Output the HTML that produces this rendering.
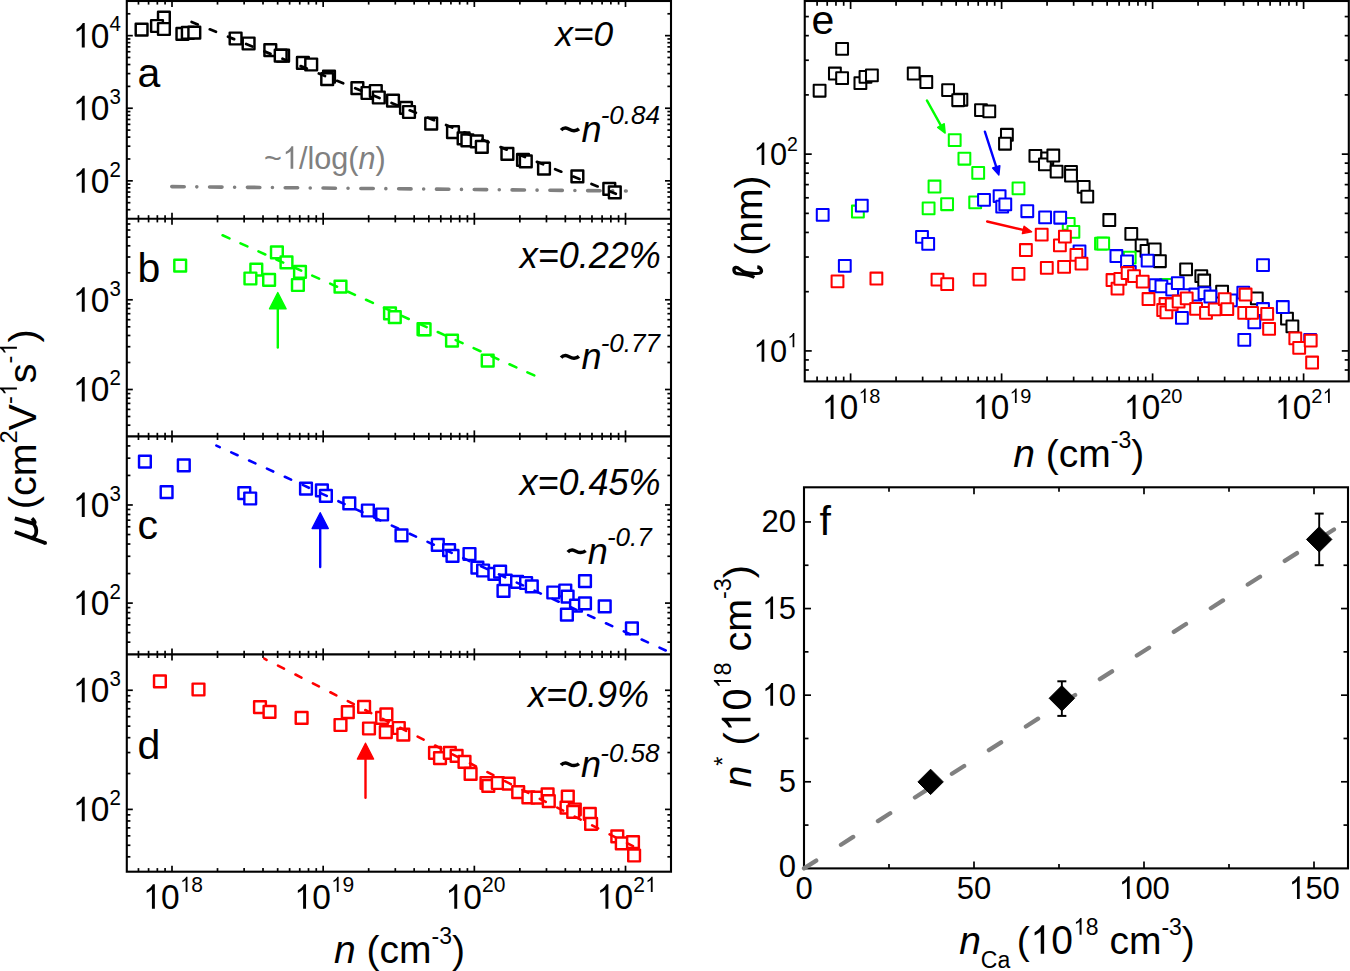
<!DOCTYPE html>
<html><head><meta charset="utf-8"><style>
html,body{margin:0;padding:0;background:#fff;}
svg{display:block;}
text{font-family:"Liberation Sans",sans-serif;font-kerning:none;white-space:pre;}
</style></head><body>
<svg width="1350" height="971" viewBox="0 0 1350 971">
<defs><path id="one" d="M763,0 L583,0 L583,1147 Q518,1085 424,1027 Q330,969 262,940 L262,1110 Q395,1178 497,1276 Q599,1374 643,1466 L763,1466 Z"/></defs>
<rect width="1350" height="971" fill="#fff"/>
<line x1="126.80" y1="209.73" x2="130.40" y2="209.73" stroke="#000" stroke-width="1.7"/>
<line x1="671.00" y1="209.73" x2="667.40" y2="209.73" stroke="#000" stroke-width="1.7"/>
<line x1="126.80" y1="202.69" x2="130.40" y2="202.69" stroke="#000" stroke-width="1.7"/>
<line x1="671.00" y1="202.69" x2="667.40" y2="202.69" stroke="#000" stroke-width="1.7"/>
<line x1="126.80" y1="196.95" x2="130.40" y2="196.95" stroke="#000" stroke-width="1.7"/>
<line x1="671.00" y1="196.95" x2="667.40" y2="196.95" stroke="#000" stroke-width="1.7"/>
<line x1="126.80" y1="192.08" x2="130.40" y2="192.08" stroke="#000" stroke-width="1.7"/>
<line x1="671.00" y1="192.08" x2="667.40" y2="192.08" stroke="#000" stroke-width="1.7"/>
<line x1="126.80" y1="187.87" x2="130.40" y2="187.87" stroke="#000" stroke-width="1.7"/>
<line x1="671.00" y1="187.87" x2="667.40" y2="187.87" stroke="#000" stroke-width="1.7"/>
<line x1="126.80" y1="184.16" x2="130.40" y2="184.16" stroke="#000" stroke-width="1.7"/>
<line x1="671.00" y1="184.16" x2="667.40" y2="184.16" stroke="#000" stroke-width="1.7"/>
<line x1="126.80" y1="180.84" x2="132.80" y2="180.84" stroke="#000" stroke-width="1.7"/>
<line x1="671.00" y1="180.84" x2="665.00" y2="180.84" stroke="#000" stroke-width="1.7"/>
<line x1="126.80" y1="158.98" x2="130.40" y2="158.98" stroke="#000" stroke-width="1.7"/>
<line x1="671.00" y1="158.98" x2="667.40" y2="158.98" stroke="#000" stroke-width="1.7"/>
<line x1="126.80" y1="146.20" x2="130.40" y2="146.20" stroke="#000" stroke-width="1.7"/>
<line x1="671.00" y1="146.20" x2="667.40" y2="146.20" stroke="#000" stroke-width="1.7"/>
<line x1="126.80" y1="137.13" x2="130.40" y2="137.13" stroke="#000" stroke-width="1.7"/>
<line x1="671.00" y1="137.13" x2="667.40" y2="137.13" stroke="#000" stroke-width="1.7"/>
<line x1="126.80" y1="130.09" x2="130.40" y2="130.09" stroke="#000" stroke-width="1.7"/>
<line x1="671.00" y1="130.09" x2="667.40" y2="130.09" stroke="#000" stroke-width="1.7"/>
<line x1="126.80" y1="124.35" x2="130.40" y2="124.35" stroke="#000" stroke-width="1.7"/>
<line x1="671.00" y1="124.35" x2="667.40" y2="124.35" stroke="#000" stroke-width="1.7"/>
<line x1="126.80" y1="119.48" x2="130.40" y2="119.48" stroke="#000" stroke-width="1.7"/>
<line x1="671.00" y1="119.48" x2="667.40" y2="119.48" stroke="#000" stroke-width="1.7"/>
<line x1="126.80" y1="115.27" x2="130.40" y2="115.27" stroke="#000" stroke-width="1.7"/>
<line x1="671.00" y1="115.27" x2="667.40" y2="115.27" stroke="#000" stroke-width="1.7"/>
<line x1="126.80" y1="111.56" x2="130.40" y2="111.56" stroke="#000" stroke-width="1.7"/>
<line x1="671.00" y1="111.56" x2="667.40" y2="111.56" stroke="#000" stroke-width="1.7"/>
<line x1="126.80" y1="108.24" x2="132.80" y2="108.24" stroke="#000" stroke-width="1.7"/>
<line x1="671.00" y1="108.24" x2="665.00" y2="108.24" stroke="#000" stroke-width="1.7"/>
<line x1="126.80" y1="86.38" x2="130.40" y2="86.38" stroke="#000" stroke-width="1.7"/>
<line x1="671.00" y1="86.38" x2="667.40" y2="86.38" stroke="#000" stroke-width="1.7"/>
<line x1="126.80" y1="73.60" x2="130.40" y2="73.60" stroke="#000" stroke-width="1.7"/>
<line x1="671.00" y1="73.60" x2="667.40" y2="73.60" stroke="#000" stroke-width="1.7"/>
<line x1="126.80" y1="64.53" x2="130.40" y2="64.53" stroke="#000" stroke-width="1.7"/>
<line x1="671.00" y1="64.53" x2="667.40" y2="64.53" stroke="#000" stroke-width="1.7"/>
<line x1="126.80" y1="57.49" x2="130.40" y2="57.49" stroke="#000" stroke-width="1.7"/>
<line x1="671.00" y1="57.49" x2="667.40" y2="57.49" stroke="#000" stroke-width="1.7"/>
<line x1="126.80" y1="51.75" x2="130.40" y2="51.75" stroke="#000" stroke-width="1.7"/>
<line x1="671.00" y1="51.75" x2="667.40" y2="51.75" stroke="#000" stroke-width="1.7"/>
<line x1="126.80" y1="46.88" x2="130.40" y2="46.88" stroke="#000" stroke-width="1.7"/>
<line x1="671.00" y1="46.88" x2="667.40" y2="46.88" stroke="#000" stroke-width="1.7"/>
<line x1="126.80" y1="42.67" x2="130.40" y2="42.67" stroke="#000" stroke-width="1.7"/>
<line x1="671.00" y1="42.67" x2="667.40" y2="42.67" stroke="#000" stroke-width="1.7"/>
<line x1="126.80" y1="38.96" x2="130.40" y2="38.96" stroke="#000" stroke-width="1.7"/>
<line x1="671.00" y1="38.96" x2="667.40" y2="38.96" stroke="#000" stroke-width="1.7"/>
<line x1="126.80" y1="35.64" x2="132.80" y2="35.64" stroke="#000" stroke-width="1.7"/>
<line x1="671.00" y1="35.64" x2="665.00" y2="35.64" stroke="#000" stroke-width="1.7"/>
<line x1="126.80" y1="13.78" x2="130.40" y2="13.78" stroke="#000" stroke-width="1.7"/>
<line x1="671.00" y1="13.78" x2="667.40" y2="13.78" stroke="#000" stroke-width="1.7"/>
<line x1="138.46" y1="1.00" x2="138.46" y2="4.60" stroke="#000" stroke-width="1.7"/>
<line x1="138.46" y1="218.80" x2="138.46" y2="215.20" stroke="#000" stroke-width="1.7"/>
<line x1="148.58" y1="1.00" x2="148.58" y2="4.60" stroke="#000" stroke-width="1.7"/>
<line x1="148.58" y1="218.80" x2="148.58" y2="215.20" stroke="#000" stroke-width="1.7"/>
<line x1="157.35" y1="1.00" x2="157.35" y2="4.60" stroke="#000" stroke-width="1.7"/>
<line x1="157.35" y1="218.80" x2="157.35" y2="215.20" stroke="#000" stroke-width="1.7"/>
<line x1="165.08" y1="1.00" x2="165.08" y2="4.60" stroke="#000" stroke-width="1.7"/>
<line x1="165.08" y1="218.80" x2="165.08" y2="215.20" stroke="#000" stroke-width="1.7"/>
<line x1="172.00" y1="1.00" x2="172.00" y2="7.00" stroke="#000" stroke-width="1.7"/>
<line x1="172.00" y1="218.80" x2="172.00" y2="212.80" stroke="#000" stroke-width="1.7"/>
<line x1="217.51" y1="1.00" x2="217.51" y2="4.60" stroke="#000" stroke-width="1.7"/>
<line x1="217.51" y1="218.80" x2="217.51" y2="215.20" stroke="#000" stroke-width="1.7"/>
<line x1="244.13" y1="1.00" x2="244.13" y2="4.60" stroke="#000" stroke-width="1.7"/>
<line x1="244.13" y1="218.80" x2="244.13" y2="215.20" stroke="#000" stroke-width="1.7"/>
<line x1="263.01" y1="1.00" x2="263.01" y2="4.60" stroke="#000" stroke-width="1.7"/>
<line x1="263.01" y1="218.80" x2="263.01" y2="215.20" stroke="#000" stroke-width="1.7"/>
<line x1="277.66" y1="1.00" x2="277.66" y2="4.60" stroke="#000" stroke-width="1.7"/>
<line x1="277.66" y1="218.80" x2="277.66" y2="215.20" stroke="#000" stroke-width="1.7"/>
<line x1="289.63" y1="1.00" x2="289.63" y2="4.60" stroke="#000" stroke-width="1.7"/>
<line x1="289.63" y1="218.80" x2="289.63" y2="215.20" stroke="#000" stroke-width="1.7"/>
<line x1="299.75" y1="1.00" x2="299.75" y2="4.60" stroke="#000" stroke-width="1.7"/>
<line x1="299.75" y1="218.80" x2="299.75" y2="215.20" stroke="#000" stroke-width="1.7"/>
<line x1="308.52" y1="1.00" x2="308.52" y2="4.60" stroke="#000" stroke-width="1.7"/>
<line x1="308.52" y1="218.80" x2="308.52" y2="215.20" stroke="#000" stroke-width="1.7"/>
<line x1="316.25" y1="1.00" x2="316.25" y2="4.60" stroke="#000" stroke-width="1.7"/>
<line x1="316.25" y1="218.80" x2="316.25" y2="215.20" stroke="#000" stroke-width="1.7"/>
<line x1="323.17" y1="1.00" x2="323.17" y2="7.00" stroke="#000" stroke-width="1.7"/>
<line x1="323.17" y1="218.80" x2="323.17" y2="212.80" stroke="#000" stroke-width="1.7"/>
<line x1="368.68" y1="1.00" x2="368.68" y2="4.60" stroke="#000" stroke-width="1.7"/>
<line x1="368.68" y1="218.80" x2="368.68" y2="215.20" stroke="#000" stroke-width="1.7"/>
<line x1="395.30" y1="1.00" x2="395.30" y2="4.60" stroke="#000" stroke-width="1.7"/>
<line x1="395.30" y1="218.80" x2="395.30" y2="215.20" stroke="#000" stroke-width="1.7"/>
<line x1="414.18" y1="1.00" x2="414.18" y2="4.60" stroke="#000" stroke-width="1.7"/>
<line x1="414.18" y1="218.80" x2="414.18" y2="215.20" stroke="#000" stroke-width="1.7"/>
<line x1="428.83" y1="1.00" x2="428.83" y2="4.60" stroke="#000" stroke-width="1.7"/>
<line x1="428.83" y1="218.80" x2="428.83" y2="215.20" stroke="#000" stroke-width="1.7"/>
<line x1="440.80" y1="1.00" x2="440.80" y2="4.60" stroke="#000" stroke-width="1.7"/>
<line x1="440.80" y1="218.80" x2="440.80" y2="215.20" stroke="#000" stroke-width="1.7"/>
<line x1="450.92" y1="1.00" x2="450.92" y2="4.60" stroke="#000" stroke-width="1.7"/>
<line x1="450.92" y1="218.80" x2="450.92" y2="215.20" stroke="#000" stroke-width="1.7"/>
<line x1="459.69" y1="1.00" x2="459.69" y2="4.60" stroke="#000" stroke-width="1.7"/>
<line x1="459.69" y1="218.80" x2="459.69" y2="215.20" stroke="#000" stroke-width="1.7"/>
<line x1="467.42" y1="1.00" x2="467.42" y2="4.60" stroke="#000" stroke-width="1.7"/>
<line x1="467.42" y1="218.80" x2="467.42" y2="215.20" stroke="#000" stroke-width="1.7"/>
<line x1="474.34" y1="1.00" x2="474.34" y2="7.00" stroke="#000" stroke-width="1.7"/>
<line x1="474.34" y1="218.80" x2="474.34" y2="212.80" stroke="#000" stroke-width="1.7"/>
<line x1="519.85" y1="1.00" x2="519.85" y2="4.60" stroke="#000" stroke-width="1.7"/>
<line x1="519.85" y1="218.80" x2="519.85" y2="215.20" stroke="#000" stroke-width="1.7"/>
<line x1="546.47" y1="1.00" x2="546.47" y2="4.60" stroke="#000" stroke-width="1.7"/>
<line x1="546.47" y1="218.80" x2="546.47" y2="215.20" stroke="#000" stroke-width="1.7"/>
<line x1="565.35" y1="1.00" x2="565.35" y2="4.60" stroke="#000" stroke-width="1.7"/>
<line x1="565.35" y1="218.80" x2="565.35" y2="215.20" stroke="#000" stroke-width="1.7"/>
<line x1="580.00" y1="1.00" x2="580.00" y2="4.60" stroke="#000" stroke-width="1.7"/>
<line x1="580.00" y1="218.80" x2="580.00" y2="215.20" stroke="#000" stroke-width="1.7"/>
<line x1="591.97" y1="1.00" x2="591.97" y2="4.60" stroke="#000" stroke-width="1.7"/>
<line x1="591.97" y1="218.80" x2="591.97" y2="215.20" stroke="#000" stroke-width="1.7"/>
<line x1="602.09" y1="1.00" x2="602.09" y2="4.60" stroke="#000" stroke-width="1.7"/>
<line x1="602.09" y1="218.80" x2="602.09" y2="215.20" stroke="#000" stroke-width="1.7"/>
<line x1="610.86" y1="1.00" x2="610.86" y2="4.60" stroke="#000" stroke-width="1.7"/>
<line x1="610.86" y1="218.80" x2="610.86" y2="215.20" stroke="#000" stroke-width="1.7"/>
<line x1="618.59" y1="1.00" x2="618.59" y2="4.60" stroke="#000" stroke-width="1.7"/>
<line x1="618.59" y1="218.80" x2="618.59" y2="215.20" stroke="#000" stroke-width="1.7"/>
<line x1="625.51" y1="1.00" x2="625.51" y2="7.00" stroke="#000" stroke-width="1.7"/>
<line x1="625.51" y1="218.80" x2="625.51" y2="212.80" stroke="#000" stroke-width="1.7"/>
<line x1="126.80" y1="425.19" x2="130.40" y2="425.19" stroke="#000" stroke-width="1.7"/>
<line x1="671.00" y1="425.19" x2="667.40" y2="425.19" stroke="#000" stroke-width="1.7"/>
<line x1="126.80" y1="416.50" x2="130.40" y2="416.50" stroke="#000" stroke-width="1.7"/>
<line x1="671.00" y1="416.50" x2="667.40" y2="416.50" stroke="#000" stroke-width="1.7"/>
<line x1="126.80" y1="409.40" x2="130.40" y2="409.40" stroke="#000" stroke-width="1.7"/>
<line x1="671.00" y1="409.40" x2="667.40" y2="409.40" stroke="#000" stroke-width="1.7"/>
<line x1="126.80" y1="403.39" x2="130.40" y2="403.39" stroke="#000" stroke-width="1.7"/>
<line x1="671.00" y1="403.39" x2="667.40" y2="403.39" stroke="#000" stroke-width="1.7"/>
<line x1="126.80" y1="398.19" x2="130.40" y2="398.19" stroke="#000" stroke-width="1.7"/>
<line x1="671.00" y1="398.19" x2="667.40" y2="398.19" stroke="#000" stroke-width="1.7"/>
<line x1="126.80" y1="393.60" x2="130.40" y2="393.60" stroke="#000" stroke-width="1.7"/>
<line x1="671.00" y1="393.60" x2="667.40" y2="393.60" stroke="#000" stroke-width="1.7"/>
<line x1="126.80" y1="389.50" x2="132.80" y2="389.50" stroke="#000" stroke-width="1.7"/>
<line x1="671.00" y1="389.50" x2="665.00" y2="389.50" stroke="#000" stroke-width="1.7"/>
<line x1="126.80" y1="362.50" x2="130.40" y2="362.50" stroke="#000" stroke-width="1.7"/>
<line x1="671.00" y1="362.50" x2="667.40" y2="362.50" stroke="#000" stroke-width="1.7"/>
<line x1="126.80" y1="346.70" x2="130.40" y2="346.70" stroke="#000" stroke-width="1.7"/>
<line x1="671.00" y1="346.70" x2="667.40" y2="346.70" stroke="#000" stroke-width="1.7"/>
<line x1="126.80" y1="335.50" x2="130.40" y2="335.50" stroke="#000" stroke-width="1.7"/>
<line x1="671.00" y1="335.50" x2="667.40" y2="335.50" stroke="#000" stroke-width="1.7"/>
<line x1="126.80" y1="326.80" x2="130.40" y2="326.80" stroke="#000" stroke-width="1.7"/>
<line x1="671.00" y1="326.80" x2="667.40" y2="326.80" stroke="#000" stroke-width="1.7"/>
<line x1="126.80" y1="319.70" x2="130.40" y2="319.70" stroke="#000" stroke-width="1.7"/>
<line x1="671.00" y1="319.70" x2="667.40" y2="319.70" stroke="#000" stroke-width="1.7"/>
<line x1="126.80" y1="313.70" x2="130.40" y2="313.70" stroke="#000" stroke-width="1.7"/>
<line x1="671.00" y1="313.70" x2="667.40" y2="313.70" stroke="#000" stroke-width="1.7"/>
<line x1="126.80" y1="308.50" x2="130.40" y2="308.50" stroke="#000" stroke-width="1.7"/>
<line x1="671.00" y1="308.50" x2="667.40" y2="308.50" stroke="#000" stroke-width="1.7"/>
<line x1="126.80" y1="303.91" x2="130.40" y2="303.91" stroke="#000" stroke-width="1.7"/>
<line x1="671.00" y1="303.91" x2="667.40" y2="303.91" stroke="#000" stroke-width="1.7"/>
<line x1="126.80" y1="299.80" x2="132.80" y2="299.80" stroke="#000" stroke-width="1.7"/>
<line x1="671.00" y1="299.80" x2="665.00" y2="299.80" stroke="#000" stroke-width="1.7"/>
<line x1="126.80" y1="272.80" x2="130.40" y2="272.80" stroke="#000" stroke-width="1.7"/>
<line x1="671.00" y1="272.80" x2="667.40" y2="272.80" stroke="#000" stroke-width="1.7"/>
<line x1="126.80" y1="257.01" x2="130.40" y2="257.01" stroke="#000" stroke-width="1.7"/>
<line x1="671.00" y1="257.01" x2="667.40" y2="257.01" stroke="#000" stroke-width="1.7"/>
<line x1="126.80" y1="245.80" x2="130.40" y2="245.80" stroke="#000" stroke-width="1.7"/>
<line x1="671.00" y1="245.80" x2="667.40" y2="245.80" stroke="#000" stroke-width="1.7"/>
<line x1="126.80" y1="237.11" x2="130.40" y2="237.11" stroke="#000" stroke-width="1.7"/>
<line x1="671.00" y1="237.11" x2="667.40" y2="237.11" stroke="#000" stroke-width="1.7"/>
<line x1="126.80" y1="230.01" x2="130.40" y2="230.01" stroke="#000" stroke-width="1.7"/>
<line x1="671.00" y1="230.01" x2="667.40" y2="230.01" stroke="#000" stroke-width="1.7"/>
<line x1="126.80" y1="224.00" x2="130.40" y2="224.00" stroke="#000" stroke-width="1.7"/>
<line x1="671.00" y1="224.00" x2="667.40" y2="224.00" stroke="#000" stroke-width="1.7"/>
<line x1="138.46" y1="218.80" x2="138.46" y2="222.40" stroke="#000" stroke-width="1.7"/>
<line x1="138.46" y1="436.40" x2="138.46" y2="432.80" stroke="#000" stroke-width="1.7"/>
<line x1="148.58" y1="218.80" x2="148.58" y2="222.40" stroke="#000" stroke-width="1.7"/>
<line x1="148.58" y1="436.40" x2="148.58" y2="432.80" stroke="#000" stroke-width="1.7"/>
<line x1="157.35" y1="218.80" x2="157.35" y2="222.40" stroke="#000" stroke-width="1.7"/>
<line x1="157.35" y1="436.40" x2="157.35" y2="432.80" stroke="#000" stroke-width="1.7"/>
<line x1="165.08" y1="218.80" x2="165.08" y2="222.40" stroke="#000" stroke-width="1.7"/>
<line x1="165.08" y1="436.40" x2="165.08" y2="432.80" stroke="#000" stroke-width="1.7"/>
<line x1="172.00" y1="218.80" x2="172.00" y2="224.80" stroke="#000" stroke-width="1.7"/>
<line x1="172.00" y1="436.40" x2="172.00" y2="430.40" stroke="#000" stroke-width="1.7"/>
<line x1="217.51" y1="218.80" x2="217.51" y2="222.40" stroke="#000" stroke-width="1.7"/>
<line x1="217.51" y1="436.40" x2="217.51" y2="432.80" stroke="#000" stroke-width="1.7"/>
<line x1="244.13" y1="218.80" x2="244.13" y2="222.40" stroke="#000" stroke-width="1.7"/>
<line x1="244.13" y1="436.40" x2="244.13" y2="432.80" stroke="#000" stroke-width="1.7"/>
<line x1="263.01" y1="218.80" x2="263.01" y2="222.40" stroke="#000" stroke-width="1.7"/>
<line x1="263.01" y1="436.40" x2="263.01" y2="432.80" stroke="#000" stroke-width="1.7"/>
<line x1="277.66" y1="218.80" x2="277.66" y2="222.40" stroke="#000" stroke-width="1.7"/>
<line x1="277.66" y1="436.40" x2="277.66" y2="432.80" stroke="#000" stroke-width="1.7"/>
<line x1="289.63" y1="218.80" x2="289.63" y2="222.40" stroke="#000" stroke-width="1.7"/>
<line x1="289.63" y1="436.40" x2="289.63" y2="432.80" stroke="#000" stroke-width="1.7"/>
<line x1="299.75" y1="218.80" x2="299.75" y2="222.40" stroke="#000" stroke-width="1.7"/>
<line x1="299.75" y1="436.40" x2="299.75" y2="432.80" stroke="#000" stroke-width="1.7"/>
<line x1="308.52" y1="218.80" x2="308.52" y2="222.40" stroke="#000" stroke-width="1.7"/>
<line x1="308.52" y1="436.40" x2="308.52" y2="432.80" stroke="#000" stroke-width="1.7"/>
<line x1="316.25" y1="218.80" x2="316.25" y2="222.40" stroke="#000" stroke-width="1.7"/>
<line x1="316.25" y1="436.40" x2="316.25" y2="432.80" stroke="#000" stroke-width="1.7"/>
<line x1="323.17" y1="218.80" x2="323.17" y2="224.80" stroke="#000" stroke-width="1.7"/>
<line x1="323.17" y1="436.40" x2="323.17" y2="430.40" stroke="#000" stroke-width="1.7"/>
<line x1="368.68" y1="218.80" x2="368.68" y2="222.40" stroke="#000" stroke-width="1.7"/>
<line x1="368.68" y1="436.40" x2="368.68" y2="432.80" stroke="#000" stroke-width="1.7"/>
<line x1="395.30" y1="218.80" x2="395.30" y2="222.40" stroke="#000" stroke-width="1.7"/>
<line x1="395.30" y1="436.40" x2="395.30" y2="432.80" stroke="#000" stroke-width="1.7"/>
<line x1="414.18" y1="218.80" x2="414.18" y2="222.40" stroke="#000" stroke-width="1.7"/>
<line x1="414.18" y1="436.40" x2="414.18" y2="432.80" stroke="#000" stroke-width="1.7"/>
<line x1="428.83" y1="218.80" x2="428.83" y2="222.40" stroke="#000" stroke-width="1.7"/>
<line x1="428.83" y1="436.40" x2="428.83" y2="432.80" stroke="#000" stroke-width="1.7"/>
<line x1="440.80" y1="218.80" x2="440.80" y2="222.40" stroke="#000" stroke-width="1.7"/>
<line x1="440.80" y1="436.40" x2="440.80" y2="432.80" stroke="#000" stroke-width="1.7"/>
<line x1="450.92" y1="218.80" x2="450.92" y2="222.40" stroke="#000" stroke-width="1.7"/>
<line x1="450.92" y1="436.40" x2="450.92" y2="432.80" stroke="#000" stroke-width="1.7"/>
<line x1="459.69" y1="218.80" x2="459.69" y2="222.40" stroke="#000" stroke-width="1.7"/>
<line x1="459.69" y1="436.40" x2="459.69" y2="432.80" stroke="#000" stroke-width="1.7"/>
<line x1="467.42" y1="218.80" x2="467.42" y2="222.40" stroke="#000" stroke-width="1.7"/>
<line x1="467.42" y1="436.40" x2="467.42" y2="432.80" stroke="#000" stroke-width="1.7"/>
<line x1="474.34" y1="218.80" x2="474.34" y2="224.80" stroke="#000" stroke-width="1.7"/>
<line x1="474.34" y1="436.40" x2="474.34" y2="430.40" stroke="#000" stroke-width="1.7"/>
<line x1="519.85" y1="218.80" x2="519.85" y2="222.40" stroke="#000" stroke-width="1.7"/>
<line x1="519.85" y1="436.40" x2="519.85" y2="432.80" stroke="#000" stroke-width="1.7"/>
<line x1="546.47" y1="218.80" x2="546.47" y2="222.40" stroke="#000" stroke-width="1.7"/>
<line x1="546.47" y1="436.40" x2="546.47" y2="432.80" stroke="#000" stroke-width="1.7"/>
<line x1="565.35" y1="218.80" x2="565.35" y2="222.40" stroke="#000" stroke-width="1.7"/>
<line x1="565.35" y1="436.40" x2="565.35" y2="432.80" stroke="#000" stroke-width="1.7"/>
<line x1="580.00" y1="218.80" x2="580.00" y2="222.40" stroke="#000" stroke-width="1.7"/>
<line x1="580.00" y1="436.40" x2="580.00" y2="432.80" stroke="#000" stroke-width="1.7"/>
<line x1="591.97" y1="218.80" x2="591.97" y2="222.40" stroke="#000" stroke-width="1.7"/>
<line x1="591.97" y1="436.40" x2="591.97" y2="432.80" stroke="#000" stroke-width="1.7"/>
<line x1="602.09" y1="218.80" x2="602.09" y2="222.40" stroke="#000" stroke-width="1.7"/>
<line x1="602.09" y1="436.40" x2="602.09" y2="432.80" stroke="#000" stroke-width="1.7"/>
<line x1="610.86" y1="218.80" x2="610.86" y2="222.40" stroke="#000" stroke-width="1.7"/>
<line x1="610.86" y1="436.40" x2="610.86" y2="432.80" stroke="#000" stroke-width="1.7"/>
<line x1="618.59" y1="218.80" x2="618.59" y2="222.40" stroke="#000" stroke-width="1.7"/>
<line x1="618.59" y1="436.40" x2="618.59" y2="432.80" stroke="#000" stroke-width="1.7"/>
<line x1="625.51" y1="218.80" x2="625.51" y2="224.80" stroke="#000" stroke-width="1.7"/>
<line x1="625.51" y1="436.40" x2="625.51" y2="430.40" stroke="#000" stroke-width="1.7"/>
<line x1="126.80" y1="642.14" x2="130.40" y2="642.14" stroke="#000" stroke-width="1.7"/>
<line x1="671.00" y1="642.14" x2="667.40" y2="642.14" stroke="#000" stroke-width="1.7"/>
<line x1="126.80" y1="632.63" x2="130.40" y2="632.63" stroke="#000" stroke-width="1.7"/>
<line x1="671.00" y1="632.63" x2="667.40" y2="632.63" stroke="#000" stroke-width="1.7"/>
<line x1="126.80" y1="624.86" x2="130.40" y2="624.86" stroke="#000" stroke-width="1.7"/>
<line x1="671.00" y1="624.86" x2="667.40" y2="624.86" stroke="#000" stroke-width="1.7"/>
<line x1="126.80" y1="618.30" x2="130.40" y2="618.30" stroke="#000" stroke-width="1.7"/>
<line x1="671.00" y1="618.30" x2="667.40" y2="618.30" stroke="#000" stroke-width="1.7"/>
<line x1="126.80" y1="612.61" x2="130.40" y2="612.61" stroke="#000" stroke-width="1.7"/>
<line x1="671.00" y1="612.61" x2="667.40" y2="612.61" stroke="#000" stroke-width="1.7"/>
<line x1="126.80" y1="607.59" x2="130.40" y2="607.59" stroke="#000" stroke-width="1.7"/>
<line x1="671.00" y1="607.59" x2="667.40" y2="607.59" stroke="#000" stroke-width="1.7"/>
<line x1="126.80" y1="603.10" x2="132.80" y2="603.10" stroke="#000" stroke-width="1.7"/>
<line x1="671.00" y1="603.10" x2="665.00" y2="603.10" stroke="#000" stroke-width="1.7"/>
<line x1="126.80" y1="573.56" x2="130.40" y2="573.56" stroke="#000" stroke-width="1.7"/>
<line x1="671.00" y1="573.56" x2="667.40" y2="573.56" stroke="#000" stroke-width="1.7"/>
<line x1="126.80" y1="556.28" x2="130.40" y2="556.28" stroke="#000" stroke-width="1.7"/>
<line x1="671.00" y1="556.28" x2="667.40" y2="556.28" stroke="#000" stroke-width="1.7"/>
<line x1="126.80" y1="544.02" x2="130.40" y2="544.02" stroke="#000" stroke-width="1.7"/>
<line x1="671.00" y1="544.02" x2="667.40" y2="544.02" stroke="#000" stroke-width="1.7"/>
<line x1="126.80" y1="534.52" x2="130.40" y2="534.52" stroke="#000" stroke-width="1.7"/>
<line x1="671.00" y1="534.52" x2="667.40" y2="534.52" stroke="#000" stroke-width="1.7"/>
<line x1="126.80" y1="526.75" x2="130.40" y2="526.75" stroke="#000" stroke-width="1.7"/>
<line x1="671.00" y1="526.75" x2="667.40" y2="526.75" stroke="#000" stroke-width="1.7"/>
<line x1="126.80" y1="520.18" x2="130.40" y2="520.18" stroke="#000" stroke-width="1.7"/>
<line x1="671.00" y1="520.18" x2="667.40" y2="520.18" stroke="#000" stroke-width="1.7"/>
<line x1="126.80" y1="514.49" x2="130.40" y2="514.49" stroke="#000" stroke-width="1.7"/>
<line x1="671.00" y1="514.49" x2="667.40" y2="514.49" stroke="#000" stroke-width="1.7"/>
<line x1="126.80" y1="509.47" x2="130.40" y2="509.47" stroke="#000" stroke-width="1.7"/>
<line x1="671.00" y1="509.47" x2="667.40" y2="509.47" stroke="#000" stroke-width="1.7"/>
<line x1="126.80" y1="504.98" x2="132.80" y2="504.98" stroke="#000" stroke-width="1.7"/>
<line x1="671.00" y1="504.98" x2="665.00" y2="504.98" stroke="#000" stroke-width="1.7"/>
<line x1="126.80" y1="475.44" x2="130.40" y2="475.44" stroke="#000" stroke-width="1.7"/>
<line x1="671.00" y1="475.44" x2="667.40" y2="475.44" stroke="#000" stroke-width="1.7"/>
<line x1="126.80" y1="458.17" x2="130.40" y2="458.17" stroke="#000" stroke-width="1.7"/>
<line x1="671.00" y1="458.17" x2="667.40" y2="458.17" stroke="#000" stroke-width="1.7"/>
<line x1="126.80" y1="445.91" x2="130.40" y2="445.91" stroke="#000" stroke-width="1.7"/>
<line x1="671.00" y1="445.91" x2="667.40" y2="445.91" stroke="#000" stroke-width="1.7"/>
<line x1="138.46" y1="436.40" x2="138.46" y2="440.00" stroke="#000" stroke-width="1.7"/>
<line x1="138.46" y1="654.40" x2="138.46" y2="650.80" stroke="#000" stroke-width="1.7"/>
<line x1="148.58" y1="436.40" x2="148.58" y2="440.00" stroke="#000" stroke-width="1.7"/>
<line x1="148.58" y1="654.40" x2="148.58" y2="650.80" stroke="#000" stroke-width="1.7"/>
<line x1="157.35" y1="436.40" x2="157.35" y2="440.00" stroke="#000" stroke-width="1.7"/>
<line x1="157.35" y1="654.40" x2="157.35" y2="650.80" stroke="#000" stroke-width="1.7"/>
<line x1="165.08" y1="436.40" x2="165.08" y2="440.00" stroke="#000" stroke-width="1.7"/>
<line x1="165.08" y1="654.40" x2="165.08" y2="650.80" stroke="#000" stroke-width="1.7"/>
<line x1="172.00" y1="436.40" x2="172.00" y2="442.40" stroke="#000" stroke-width="1.7"/>
<line x1="172.00" y1="654.40" x2="172.00" y2="648.40" stroke="#000" stroke-width="1.7"/>
<line x1="217.51" y1="436.40" x2="217.51" y2="440.00" stroke="#000" stroke-width="1.7"/>
<line x1="217.51" y1="654.40" x2="217.51" y2="650.80" stroke="#000" stroke-width="1.7"/>
<line x1="244.13" y1="436.40" x2="244.13" y2="440.00" stroke="#000" stroke-width="1.7"/>
<line x1="244.13" y1="654.40" x2="244.13" y2="650.80" stroke="#000" stroke-width="1.7"/>
<line x1="263.01" y1="436.40" x2="263.01" y2="440.00" stroke="#000" stroke-width="1.7"/>
<line x1="263.01" y1="654.40" x2="263.01" y2="650.80" stroke="#000" stroke-width="1.7"/>
<line x1="277.66" y1="436.40" x2="277.66" y2="440.00" stroke="#000" stroke-width="1.7"/>
<line x1="277.66" y1="654.40" x2="277.66" y2="650.80" stroke="#000" stroke-width="1.7"/>
<line x1="289.63" y1="436.40" x2="289.63" y2="440.00" stroke="#000" stroke-width="1.7"/>
<line x1="289.63" y1="654.40" x2="289.63" y2="650.80" stroke="#000" stroke-width="1.7"/>
<line x1="299.75" y1="436.40" x2="299.75" y2="440.00" stroke="#000" stroke-width="1.7"/>
<line x1="299.75" y1="654.40" x2="299.75" y2="650.80" stroke="#000" stroke-width="1.7"/>
<line x1="308.52" y1="436.40" x2="308.52" y2="440.00" stroke="#000" stroke-width="1.7"/>
<line x1="308.52" y1="654.40" x2="308.52" y2="650.80" stroke="#000" stroke-width="1.7"/>
<line x1="316.25" y1="436.40" x2="316.25" y2="440.00" stroke="#000" stroke-width="1.7"/>
<line x1="316.25" y1="654.40" x2="316.25" y2="650.80" stroke="#000" stroke-width="1.7"/>
<line x1="323.17" y1="436.40" x2="323.17" y2="442.40" stroke="#000" stroke-width="1.7"/>
<line x1="323.17" y1="654.40" x2="323.17" y2="648.40" stroke="#000" stroke-width="1.7"/>
<line x1="368.68" y1="436.40" x2="368.68" y2="440.00" stroke="#000" stroke-width="1.7"/>
<line x1="368.68" y1="654.40" x2="368.68" y2="650.80" stroke="#000" stroke-width="1.7"/>
<line x1="395.30" y1="436.40" x2="395.30" y2="440.00" stroke="#000" stroke-width="1.7"/>
<line x1="395.30" y1="654.40" x2="395.30" y2="650.80" stroke="#000" stroke-width="1.7"/>
<line x1="414.18" y1="436.40" x2="414.18" y2="440.00" stroke="#000" stroke-width="1.7"/>
<line x1="414.18" y1="654.40" x2="414.18" y2="650.80" stroke="#000" stroke-width="1.7"/>
<line x1="428.83" y1="436.40" x2="428.83" y2="440.00" stroke="#000" stroke-width="1.7"/>
<line x1="428.83" y1="654.40" x2="428.83" y2="650.80" stroke="#000" stroke-width="1.7"/>
<line x1="440.80" y1="436.40" x2="440.80" y2="440.00" stroke="#000" stroke-width="1.7"/>
<line x1="440.80" y1="654.40" x2="440.80" y2="650.80" stroke="#000" stroke-width="1.7"/>
<line x1="450.92" y1="436.40" x2="450.92" y2="440.00" stroke="#000" stroke-width="1.7"/>
<line x1="450.92" y1="654.40" x2="450.92" y2="650.80" stroke="#000" stroke-width="1.7"/>
<line x1="459.69" y1="436.40" x2="459.69" y2="440.00" stroke="#000" stroke-width="1.7"/>
<line x1="459.69" y1="654.40" x2="459.69" y2="650.80" stroke="#000" stroke-width="1.7"/>
<line x1="467.42" y1="436.40" x2="467.42" y2="440.00" stroke="#000" stroke-width="1.7"/>
<line x1="467.42" y1="654.40" x2="467.42" y2="650.80" stroke="#000" stroke-width="1.7"/>
<line x1="474.34" y1="436.40" x2="474.34" y2="442.40" stroke="#000" stroke-width="1.7"/>
<line x1="474.34" y1="654.40" x2="474.34" y2="648.40" stroke="#000" stroke-width="1.7"/>
<line x1="519.85" y1="436.40" x2="519.85" y2="440.00" stroke="#000" stroke-width="1.7"/>
<line x1="519.85" y1="654.40" x2="519.85" y2="650.80" stroke="#000" stroke-width="1.7"/>
<line x1="546.47" y1="436.40" x2="546.47" y2="440.00" stroke="#000" stroke-width="1.7"/>
<line x1="546.47" y1="654.40" x2="546.47" y2="650.80" stroke="#000" stroke-width="1.7"/>
<line x1="565.35" y1="436.40" x2="565.35" y2="440.00" stroke="#000" stroke-width="1.7"/>
<line x1="565.35" y1="654.40" x2="565.35" y2="650.80" stroke="#000" stroke-width="1.7"/>
<line x1="580.00" y1="436.40" x2="580.00" y2="440.00" stroke="#000" stroke-width="1.7"/>
<line x1="580.00" y1="654.40" x2="580.00" y2="650.80" stroke="#000" stroke-width="1.7"/>
<line x1="591.97" y1="436.40" x2="591.97" y2="440.00" stroke="#000" stroke-width="1.7"/>
<line x1="591.97" y1="654.40" x2="591.97" y2="650.80" stroke="#000" stroke-width="1.7"/>
<line x1="602.09" y1="436.40" x2="602.09" y2="440.00" stroke="#000" stroke-width="1.7"/>
<line x1="602.09" y1="654.40" x2="602.09" y2="650.80" stroke="#000" stroke-width="1.7"/>
<line x1="610.86" y1="436.40" x2="610.86" y2="440.00" stroke="#000" stroke-width="1.7"/>
<line x1="610.86" y1="654.40" x2="610.86" y2="650.80" stroke="#000" stroke-width="1.7"/>
<line x1="618.59" y1="436.40" x2="618.59" y2="440.00" stroke="#000" stroke-width="1.7"/>
<line x1="618.59" y1="654.40" x2="618.59" y2="650.80" stroke="#000" stroke-width="1.7"/>
<line x1="625.51" y1="436.40" x2="625.51" y2="442.40" stroke="#000" stroke-width="1.7"/>
<line x1="625.51" y1="654.40" x2="625.51" y2="648.40" stroke="#000" stroke-width="1.7"/>
<line x1="126.80" y1="856.81" x2="130.40" y2="856.81" stroke="#000" stroke-width="1.7"/>
<line x1="671.00" y1="856.81" x2="667.40" y2="856.81" stroke="#000" stroke-width="1.7"/>
<line x1="126.80" y1="845.27" x2="130.40" y2="845.27" stroke="#000" stroke-width="1.7"/>
<line x1="671.00" y1="845.27" x2="667.40" y2="845.27" stroke="#000" stroke-width="1.7"/>
<line x1="126.80" y1="835.84" x2="130.40" y2="835.84" stroke="#000" stroke-width="1.7"/>
<line x1="671.00" y1="835.84" x2="667.40" y2="835.84" stroke="#000" stroke-width="1.7"/>
<line x1="126.80" y1="827.86" x2="130.40" y2="827.86" stroke="#000" stroke-width="1.7"/>
<line x1="671.00" y1="827.86" x2="667.40" y2="827.86" stroke="#000" stroke-width="1.7"/>
<line x1="126.80" y1="820.95" x2="130.40" y2="820.95" stroke="#000" stroke-width="1.7"/>
<line x1="671.00" y1="820.95" x2="667.40" y2="820.95" stroke="#000" stroke-width="1.7"/>
<line x1="126.80" y1="814.86" x2="130.40" y2="814.86" stroke="#000" stroke-width="1.7"/>
<line x1="671.00" y1="814.86" x2="667.40" y2="814.86" stroke="#000" stroke-width="1.7"/>
<line x1="126.80" y1="809.40" x2="132.80" y2="809.40" stroke="#000" stroke-width="1.7"/>
<line x1="671.00" y1="809.40" x2="665.00" y2="809.40" stroke="#000" stroke-width="1.7"/>
<line x1="126.80" y1="773.54" x2="130.40" y2="773.54" stroke="#000" stroke-width="1.7"/>
<line x1="671.00" y1="773.54" x2="667.40" y2="773.54" stroke="#000" stroke-width="1.7"/>
<line x1="126.80" y1="752.56" x2="130.40" y2="752.56" stroke="#000" stroke-width="1.7"/>
<line x1="671.00" y1="752.56" x2="667.40" y2="752.56" stroke="#000" stroke-width="1.7"/>
<line x1="126.80" y1="737.68" x2="130.40" y2="737.68" stroke="#000" stroke-width="1.7"/>
<line x1="671.00" y1="737.68" x2="667.40" y2="737.68" stroke="#000" stroke-width="1.7"/>
<line x1="126.80" y1="726.13" x2="130.40" y2="726.13" stroke="#000" stroke-width="1.7"/>
<line x1="671.00" y1="726.13" x2="667.40" y2="726.13" stroke="#000" stroke-width="1.7"/>
<line x1="126.80" y1="716.70" x2="130.40" y2="716.70" stroke="#000" stroke-width="1.7"/>
<line x1="671.00" y1="716.70" x2="667.40" y2="716.70" stroke="#000" stroke-width="1.7"/>
<line x1="126.80" y1="708.72" x2="130.40" y2="708.72" stroke="#000" stroke-width="1.7"/>
<line x1="671.00" y1="708.72" x2="667.40" y2="708.72" stroke="#000" stroke-width="1.7"/>
<line x1="126.80" y1="701.81" x2="130.40" y2="701.81" stroke="#000" stroke-width="1.7"/>
<line x1="671.00" y1="701.81" x2="667.40" y2="701.81" stroke="#000" stroke-width="1.7"/>
<line x1="126.80" y1="695.72" x2="130.40" y2="695.72" stroke="#000" stroke-width="1.7"/>
<line x1="671.00" y1="695.72" x2="667.40" y2="695.72" stroke="#000" stroke-width="1.7"/>
<line x1="126.80" y1="690.26" x2="132.80" y2="690.26" stroke="#000" stroke-width="1.7"/>
<line x1="671.00" y1="690.26" x2="665.00" y2="690.26" stroke="#000" stroke-width="1.7"/>
<line x1="138.46" y1="654.40" x2="138.46" y2="658.00" stroke="#000" stroke-width="1.7"/>
<line x1="138.46" y1="871.70" x2="138.46" y2="868.10" stroke="#000" stroke-width="1.7"/>
<line x1="148.58" y1="654.40" x2="148.58" y2="658.00" stroke="#000" stroke-width="1.7"/>
<line x1="148.58" y1="871.70" x2="148.58" y2="868.10" stroke="#000" stroke-width="1.7"/>
<line x1="157.35" y1="654.40" x2="157.35" y2="658.00" stroke="#000" stroke-width="1.7"/>
<line x1="157.35" y1="871.70" x2="157.35" y2="868.10" stroke="#000" stroke-width="1.7"/>
<line x1="165.08" y1="654.40" x2="165.08" y2="658.00" stroke="#000" stroke-width="1.7"/>
<line x1="165.08" y1="871.70" x2="165.08" y2="868.10" stroke="#000" stroke-width="1.7"/>
<line x1="172.00" y1="654.40" x2="172.00" y2="660.40" stroke="#000" stroke-width="1.7"/>
<line x1="172.00" y1="871.70" x2="172.00" y2="865.70" stroke="#000" stroke-width="1.7"/>
<line x1="217.51" y1="654.40" x2="217.51" y2="658.00" stroke="#000" stroke-width="1.7"/>
<line x1="217.51" y1="871.70" x2="217.51" y2="868.10" stroke="#000" stroke-width="1.7"/>
<line x1="244.13" y1="654.40" x2="244.13" y2="658.00" stroke="#000" stroke-width="1.7"/>
<line x1="244.13" y1="871.70" x2="244.13" y2="868.10" stroke="#000" stroke-width="1.7"/>
<line x1="263.01" y1="654.40" x2="263.01" y2="658.00" stroke="#000" stroke-width="1.7"/>
<line x1="263.01" y1="871.70" x2="263.01" y2="868.10" stroke="#000" stroke-width="1.7"/>
<line x1="277.66" y1="654.40" x2="277.66" y2="658.00" stroke="#000" stroke-width="1.7"/>
<line x1="277.66" y1="871.70" x2="277.66" y2="868.10" stroke="#000" stroke-width="1.7"/>
<line x1="289.63" y1="654.40" x2="289.63" y2="658.00" stroke="#000" stroke-width="1.7"/>
<line x1="289.63" y1="871.70" x2="289.63" y2="868.10" stroke="#000" stroke-width="1.7"/>
<line x1="299.75" y1="654.40" x2="299.75" y2="658.00" stroke="#000" stroke-width="1.7"/>
<line x1="299.75" y1="871.70" x2="299.75" y2="868.10" stroke="#000" stroke-width="1.7"/>
<line x1="308.52" y1="654.40" x2="308.52" y2="658.00" stroke="#000" stroke-width="1.7"/>
<line x1="308.52" y1="871.70" x2="308.52" y2="868.10" stroke="#000" stroke-width="1.7"/>
<line x1="316.25" y1="654.40" x2="316.25" y2="658.00" stroke="#000" stroke-width="1.7"/>
<line x1="316.25" y1="871.70" x2="316.25" y2="868.10" stroke="#000" stroke-width="1.7"/>
<line x1="323.17" y1="654.40" x2="323.17" y2="660.40" stroke="#000" stroke-width="1.7"/>
<line x1="323.17" y1="871.70" x2="323.17" y2="865.70" stroke="#000" stroke-width="1.7"/>
<line x1="368.68" y1="654.40" x2="368.68" y2="658.00" stroke="#000" stroke-width="1.7"/>
<line x1="368.68" y1="871.70" x2="368.68" y2="868.10" stroke="#000" stroke-width="1.7"/>
<line x1="395.30" y1="654.40" x2="395.30" y2="658.00" stroke="#000" stroke-width="1.7"/>
<line x1="395.30" y1="871.70" x2="395.30" y2="868.10" stroke="#000" stroke-width="1.7"/>
<line x1="414.18" y1="654.40" x2="414.18" y2="658.00" stroke="#000" stroke-width="1.7"/>
<line x1="414.18" y1="871.70" x2="414.18" y2="868.10" stroke="#000" stroke-width="1.7"/>
<line x1="428.83" y1="654.40" x2="428.83" y2="658.00" stroke="#000" stroke-width="1.7"/>
<line x1="428.83" y1="871.70" x2="428.83" y2="868.10" stroke="#000" stroke-width="1.7"/>
<line x1="440.80" y1="654.40" x2="440.80" y2="658.00" stroke="#000" stroke-width="1.7"/>
<line x1="440.80" y1="871.70" x2="440.80" y2="868.10" stroke="#000" stroke-width="1.7"/>
<line x1="450.92" y1="654.40" x2="450.92" y2="658.00" stroke="#000" stroke-width="1.7"/>
<line x1="450.92" y1="871.70" x2="450.92" y2="868.10" stroke="#000" stroke-width="1.7"/>
<line x1="459.69" y1="654.40" x2="459.69" y2="658.00" stroke="#000" stroke-width="1.7"/>
<line x1="459.69" y1="871.70" x2="459.69" y2="868.10" stroke="#000" stroke-width="1.7"/>
<line x1="467.42" y1="654.40" x2="467.42" y2="658.00" stroke="#000" stroke-width="1.7"/>
<line x1="467.42" y1="871.70" x2="467.42" y2="868.10" stroke="#000" stroke-width="1.7"/>
<line x1="474.34" y1="654.40" x2="474.34" y2="660.40" stroke="#000" stroke-width="1.7"/>
<line x1="474.34" y1="871.70" x2="474.34" y2="865.70" stroke="#000" stroke-width="1.7"/>
<line x1="519.85" y1="654.40" x2="519.85" y2="658.00" stroke="#000" stroke-width="1.7"/>
<line x1="519.85" y1="871.70" x2="519.85" y2="868.10" stroke="#000" stroke-width="1.7"/>
<line x1="546.47" y1="654.40" x2="546.47" y2="658.00" stroke="#000" stroke-width="1.7"/>
<line x1="546.47" y1="871.70" x2="546.47" y2="868.10" stroke="#000" stroke-width="1.7"/>
<line x1="565.35" y1="654.40" x2="565.35" y2="658.00" stroke="#000" stroke-width="1.7"/>
<line x1="565.35" y1="871.70" x2="565.35" y2="868.10" stroke="#000" stroke-width="1.7"/>
<line x1="580.00" y1="654.40" x2="580.00" y2="658.00" stroke="#000" stroke-width="1.7"/>
<line x1="580.00" y1="871.70" x2="580.00" y2="868.10" stroke="#000" stroke-width="1.7"/>
<line x1="591.97" y1="654.40" x2="591.97" y2="658.00" stroke="#000" stroke-width="1.7"/>
<line x1="591.97" y1="871.70" x2="591.97" y2="868.10" stroke="#000" stroke-width="1.7"/>
<line x1="602.09" y1="654.40" x2="602.09" y2="658.00" stroke="#000" stroke-width="1.7"/>
<line x1="602.09" y1="871.70" x2="602.09" y2="868.10" stroke="#000" stroke-width="1.7"/>
<line x1="610.86" y1="654.40" x2="610.86" y2="658.00" stroke="#000" stroke-width="1.7"/>
<line x1="610.86" y1="871.70" x2="610.86" y2="868.10" stroke="#000" stroke-width="1.7"/>
<line x1="618.59" y1="654.40" x2="618.59" y2="658.00" stroke="#000" stroke-width="1.7"/>
<line x1="618.59" y1="871.70" x2="618.59" y2="868.10" stroke="#000" stroke-width="1.7"/>
<line x1="625.51" y1="654.40" x2="625.51" y2="660.40" stroke="#000" stroke-width="1.7"/>
<line x1="625.51" y1="871.70" x2="625.51" y2="865.70" stroke="#000" stroke-width="1.7"/>
<rect x="126.8" y="1.0" width="544.2" height="870.7" fill="none" stroke="#000" stroke-width="2.1"/>
<line x1="126.80" y1="218.80" x2="671.00" y2="218.80" stroke="#000" stroke-width="2.1"/>
<line x1="126.80" y1="436.40" x2="671.00" y2="436.40" stroke="#000" stroke-width="2.1"/>
<line x1="126.80" y1="654.40" x2="671.00" y2="654.40" stroke="#000" stroke-width="2.1"/>
<text transform="translate(90.87,47.54) scale(1.0,1.04)" font-size="33.5" fill="#000">0</text>
<use href="#one" transform="translate(72.24,47.54) scale(0.01636,-0.01668)" fill="#000"/>
<text transform="translate(109.50,31.34) scale(1.0,1.04)" font-size="20.5" fill="#000">4</text>
<text transform="translate(90.87,120.14) scale(1.0,1.04)" font-size="33.5" fill="#000">0</text>
<use href="#one" transform="translate(72.24,120.14) scale(0.01636,-0.01668)" fill="#000"/>
<text transform="translate(109.50,103.94) scale(1.0,1.04)" font-size="20.5" fill="#000">3</text>
<text transform="translate(90.87,192.74) scale(1.0,1.04)" font-size="33.5" fill="#000">0</text>
<use href="#one" transform="translate(72.24,192.74) scale(0.01636,-0.01668)" fill="#000"/>
<text transform="translate(109.50,176.54) scale(1.0,1.04)" font-size="20.5" fill="#000">2</text>
<text transform="translate(90.87,311.70) scale(1.0,1.04)" font-size="33.5" fill="#000">0</text>
<use href="#one" transform="translate(72.24,311.70) scale(0.01636,-0.01668)" fill="#000"/>
<text transform="translate(109.50,295.50) scale(1.0,1.04)" font-size="20.5" fill="#000">3</text>
<text transform="translate(90.87,401.40) scale(1.0,1.04)" font-size="33.5" fill="#000">0</text>
<use href="#one" transform="translate(72.24,401.40) scale(0.01636,-0.01668)" fill="#000"/>
<text transform="translate(109.50,385.20) scale(1.0,1.04)" font-size="20.5" fill="#000">2</text>
<text transform="translate(90.87,516.88) scale(1.0,1.04)" font-size="33.5" fill="#000">0</text>
<use href="#one" transform="translate(72.24,516.88) scale(0.01636,-0.01668)" fill="#000"/>
<text transform="translate(109.50,500.68) scale(1.0,1.04)" font-size="20.5" fill="#000">3</text>
<text transform="translate(90.87,615.00) scale(1.0,1.04)" font-size="33.5" fill="#000">0</text>
<use href="#one" transform="translate(72.24,615.00) scale(0.01636,-0.01668)" fill="#000"/>
<text transform="translate(109.50,598.80) scale(1.0,1.04)" font-size="20.5" fill="#000">2</text>
<text transform="translate(90.87,702.16) scale(1.0,1.04)" font-size="33.5" fill="#000">0</text>
<use href="#one" transform="translate(72.24,702.16) scale(0.01636,-0.01668)" fill="#000"/>
<text transform="translate(109.50,685.96) scale(1.0,1.04)" font-size="20.5" fill="#000">3</text>
<text transform="translate(90.87,821.30) scale(1.0,1.04)" font-size="33.5" fill="#000">0</text>
<use href="#one" transform="translate(72.24,821.30) scale(0.01636,-0.01668)" fill="#000"/>
<text transform="translate(109.50,805.10) scale(1.0,1.04)" font-size="20.5" fill="#000">2</text>
<text transform="translate(161.02,908.70) scale(1.0,1.04)" font-size="33.5" fill="#000">0</text>
<use href="#one" transform="translate(142.39,908.70) scale(0.01636,-0.01668)" fill="#000"/>
<text transform="translate(191.33,892.10) scale(1.0,1.04)" font-size="21" fill="#000">8</text>
<use href="#one" transform="translate(179.65,892.10) scale(0.01025,-0.01046)" fill="#000"/>
<text transform="translate(312.19,908.70) scale(1.0,1.04)" font-size="33.5" fill="#000">0</text>
<use href="#one" transform="translate(293.56,908.70) scale(0.01636,-0.01668)" fill="#000"/>
<text transform="translate(342.50,892.10) scale(1.0,1.04)" font-size="21" fill="#000">9</text>
<use href="#one" transform="translate(330.82,892.10) scale(0.01025,-0.01046)" fill="#000"/>
<text transform="translate(463.36,908.70) scale(1.0,1.04)" font-size="33.5" fill="#000">0</text>
<use href="#one" transform="translate(444.73,908.70) scale(0.01636,-0.01668)" fill="#000"/>
<text transform="translate(481.99,892.10) scale(1.0,1.04)" font-size="21" fill="#000">2</text>
<text transform="translate(493.67,892.10) scale(1.0,1.04)" font-size="21" fill="#000">0</text>
<text transform="translate(614.53,908.70) scale(1.0,1.04)" font-size="33.5" fill="#000">0</text>
<use href="#one" transform="translate(595.90,908.70) scale(0.01636,-0.01668)" fill="#000"/>
<text transform="translate(633.16,892.10) scale(1.0,1.04)" font-size="21" fill="#000">2</text>
<use href="#one" transform="translate(644.84,892.10) scale(0.01025,-0.01046)" fill="#000"/>
<text x="334.03" y="963.40" font-size="39" font-style="italic" fill="#000">n</text>
<text x="366.56" y="963.40" font-size="39" fill="#000">(</text>
<text x="379.54" y="963.40" font-size="39" fill="#000">c</text>
<text x="399.04" y="963.40" font-size="39" fill="#000">m</text>
<text x="431.53" y="944.20" font-size="23" fill="#000">-</text>
<text transform="translate(439.19,944.20) scale(1.0,1.04)" font-size="23" fill="#000">3</text>
<text x="451.98" y="963.40" font-size="39" fill="#000">)</text>
<g transform="translate(35.7,438.6) rotate(-90)"><path transform="translate(-106.4,0)" d="M13.1,-20.9 L2.1,9.6 M7.4,-4.5 C6.8,1.5 17,2.2 21.3,-2.5 M26.6,-20.9 L21.4,-2.2 Q22.5,0.8 26.6,-3.8" fill="none" stroke="#000" stroke-width="3.7" stroke-linejoin="round"/><circle cx="-104.3" cy="9.4" r="1.9"/><text x="-70.65" y="0.00" font-size="39.5" fill="#000">(</text>
<text x="-57.49" y="0.00" font-size="39.5" fill="#000">c</text>
<text x="-37.74" y="0.00" font-size="39.5" fill="#000">m</text>
<text transform="translate(-4.84,-18.80) scale(1.0,1.04)" font-size="23.5" fill="#000">2</text>
<text x="8.23" y="0.00" font-size="39.5" fill="#000">V</text>
<text x="34.58" y="-18.80" font-size="23.5" fill="#000">-</text>
<use href="#one" transform="translate(42.40,-18.80) scale(0.01147,-0.01170)" fill="#000"/>
<text x="55.47" y="0.00" font-size="39.5" fill="#000">s</text>
<text x="75.22" y="-18.80" font-size="23.5" fill="#000">-</text>
<use href="#one" transform="translate(83.05,-18.80) scale(0.01147,-0.01170)" fill="#000"/>
<text x="96.12" y="0.00" font-size="39.5" fill="#000">)</text></g>
<text x="137.50" y="86.50" font-size="41" text-anchor="start" fill="#000" >a</text>
<text x="137.50" y="281.50" font-size="41" text-anchor="start" fill="#000" >b</text>
<text x="137.50" y="538.50" font-size="41" text-anchor="start" fill="#000" >c</text>
<text x="137.50" y="758.50" font-size="41" text-anchor="start" fill="#000" >d</text>
<text x="613.20" y="46.20" font-size="35.3" text-anchor="end" fill="#000" font-style="italic" >x=0</text>
<text x="660.80" y="268.20" font-size="36" text-anchor="end" fill="#000" font-style="italic" >x=0.22%</text>
<text x="660.50" y="495.20" font-size="36" text-anchor="end" fill="#000" font-style="italic" >x=0.45%</text>
<text x="649.10" y="707.00" font-size="36" text-anchor="end" fill="#000" font-style="italic" >x=0.9%</text>
<path transform="translate(561.10,129.45)" d="M0,0.7 C1.5,-1.1 3,-1.5 4.6,-1.4 C7.5,-1.1 9.5,1.4 13,1.25 C15,1.15 16.5,0.6 17.9,-0.6" fill="none" stroke="#000" stroke-width="3.5"/>
<text x="581.40" y="142.10" font-size="36" text-anchor="start" fill="#000" font-style="italic" >n<tspan font-size="26" dx="-0.8" dy="-17.7">-0.84</tspan></text>
<path transform="translate(561.10,356.95)" d="M0,0.7 C1.5,-1.1 3,-1.5 4.6,-1.4 C7.5,-1.1 9.5,1.4 13,1.25 C15,1.15 16.5,0.6 17.9,-0.6" fill="none" stroke="#000" stroke-width="3.5"/>
<text x="581.40" y="369.40" font-size="36" text-anchor="start" fill="#000" font-style="italic" >n<tspan font-size="26" dx="-0.8" dy="-17.7">-0.77</tspan></text>
<path transform="translate(567.80,551.35)" d="M0,0.7 C1.5,-1.1 3,-1.5 4.6,-1.4 C7.5,-1.1 9.5,1.4 13,1.25 C15,1.15 16.5,0.6 17.9,-0.6" fill="none" stroke="#000" stroke-width="3.5"/>
<text x="587.70" y="564.40" font-size="36" text-anchor="start" fill="#000" font-style="italic" >n<tspan font-size="26" dx="-0.8" dy="-18.099999999999998">-0.7</tspan></text>
<path transform="translate(561.10,764.35)" d="M0,0.7 C1.5,-1.1 3,-1.5 4.6,-1.4 C7.5,-1.1 9.5,1.4 13,1.25 C15,1.15 16.5,0.6 17.9,-0.6" fill="none" stroke="#000" stroke-width="3.5"/>
<text x="581.00" y="776.80" font-size="36" text-anchor="start" fill="#000" font-style="italic" >n<tspan font-size="26" dx="-0.8" dy="-14.700000000000001">-0.58</tspan></text>
<text x="264.00" y="168.70" font-size="30.6" fill="#808080">~</text>
<text x="298.89" y="168.70" font-size="30.6" fill="#808080">/</text>
<text x="307.39" y="168.70" font-size="30.6" fill="#808080">l</text>
<text x="314.19" y="168.70" font-size="30.6" fill="#808080">o</text>
<text x="331.21" y="168.70" font-size="30.6" fill="#808080">g</text>
<text x="348.22" y="168.70" font-size="30.6" fill="#808080">(</text>
<use href="#one" transform="translate(281.87,168.70) scale(0.01494,-0.01524)" fill="#808080"/>
<text x="358.41" y="168.70" font-size="30.6" font-style="italic" fill="#808080">n</text>
<text x="375.43" y="168.70" font-size="30.6" fill="#808080">)</text>
<rect x="135.72" y="23.73" width="11.75" height="11.75" fill="#fff" stroke="#000" stroke-width="2.45" stroke-linejoin="round"/>
<rect x="158.03" y="11.82" width="11.75" height="11.75" fill="#fff" stroke="#000" stroke-width="2.45" stroke-linejoin="round"/>
<rect x="151.12" y="20.12" width="11.75" height="11.75" fill="#fff" stroke="#000" stroke-width="2.45" stroke-linejoin="round"/>
<rect x="158.03" y="23.12" width="11.75" height="11.75" fill="#fff" stroke="#000" stroke-width="2.45" stroke-linejoin="round"/>
<rect x="176.53" y="28.02" width="11.75" height="11.75" fill="#fff" stroke="#000" stroke-width="2.45" stroke-linejoin="round"/>
<rect x="181.93" y="27.02" width="11.75" height="11.75" fill="#fff" stroke="#000" stroke-width="2.45" stroke-linejoin="round"/>
<rect x="188.43" y="26.83" width="11.75" height="11.75" fill="#fff" stroke="#000" stroke-width="2.45" stroke-linejoin="round"/>
<rect x="229.72" y="32.62" width="11.75" height="11.75" fill="#fff" stroke="#000" stroke-width="2.45" stroke-linejoin="round"/>
<rect x="242.72" y="37.62" width="11.75" height="11.75" fill="#fff" stroke="#000" stroke-width="2.45" stroke-linejoin="round"/>
<rect x="264.43" y="44.23" width="11.75" height="11.75" fill="#fff" stroke="#000" stroke-width="2.45" stroke-linejoin="round"/>
<rect x="277.23" y="49.73" width="11.75" height="11.75" fill="#fff" stroke="#000" stroke-width="2.45" stroke-linejoin="round"/>
<rect x="274.82" y="49.73" width="11.75" height="11.75" fill="#fff" stroke="#000" stroke-width="2.45" stroke-linejoin="round"/>
<rect x="297.02" y="56.92" width="11.75" height="11.75" fill="#fff" stroke="#000" stroke-width="2.45" stroke-linejoin="round"/>
<rect x="305.32" y="58.62" width="11.75" height="11.75" fill="#fff" stroke="#000" stroke-width="2.45" stroke-linejoin="round"/>
<rect x="323.12" y="70.83" width="11.75" height="11.75" fill="#fff" stroke="#000" stroke-width="2.45" stroke-linejoin="round"/>
<rect x="321.32" y="73.22" width="11.75" height="11.75" fill="#fff" stroke="#000" stroke-width="2.45" stroke-linejoin="round"/>
<rect x="351.52" y="82.33" width="11.75" height="11.75" fill="#fff" stroke="#000" stroke-width="2.45" stroke-linejoin="round"/>
<rect x="361.62" y="87.12" width="11.75" height="11.75" fill="#fff" stroke="#000" stroke-width="2.45" stroke-linejoin="round"/>
<rect x="369.93" y="85.12" width="11.75" height="11.75" fill="#fff" stroke="#000" stroke-width="2.45" stroke-linejoin="round"/>
<rect x="372.93" y="91.62" width="11.75" height="11.75" fill="#fff" stroke="#000" stroke-width="2.45" stroke-linejoin="round"/>
<rect x="387.12" y="94.83" width="11.75" height="11.75" fill="#fff" stroke="#000" stroke-width="2.45" stroke-linejoin="round"/>
<rect x="400.12" y="101.92" width="11.75" height="11.75" fill="#fff" stroke="#000" stroke-width="2.45" stroke-linejoin="round"/>
<rect x="403.12" y="106.12" width="11.75" height="11.75" fill="#fff" stroke="#000" stroke-width="2.45" stroke-linejoin="round"/>
<rect x="425.32" y="117.83" width="11.75" height="11.75" fill="#fff" stroke="#000" stroke-width="2.45" stroke-linejoin="round"/>
<rect x="447.12" y="126.22" width="11.75" height="11.75" fill="#fff" stroke="#000" stroke-width="2.45" stroke-linejoin="round"/>
<rect x="457.73" y="132.43" width="11.75" height="11.75" fill="#fff" stroke="#000" stroke-width="2.45" stroke-linejoin="round"/>
<rect x="461.52" y="134.43" width="11.75" height="11.75" fill="#fff" stroke="#000" stroke-width="2.45" stroke-linejoin="round"/>
<rect x="470.93" y="135.53" width="11.75" height="11.75" fill="#fff" stroke="#000" stroke-width="2.45" stroke-linejoin="round"/>
<rect x="475.93" y="141.03" width="11.75" height="11.75" fill="#fff" stroke="#000" stroke-width="2.45" stroke-linejoin="round"/>
<rect x="501.52" y="148.03" width="11.75" height="11.75" fill="#fff" stroke="#000" stroke-width="2.45" stroke-linejoin="round"/>
<rect x="517.12" y="153.93" width="11.75" height="11.75" fill="#fff" stroke="#000" stroke-width="2.45" stroke-linejoin="round"/>
<rect x="519.92" y="155.43" width="11.75" height="11.75" fill="#fff" stroke="#000" stroke-width="2.45" stroke-linejoin="round"/>
<rect x="538.12" y="162.72" width="11.75" height="11.75" fill="#fff" stroke="#000" stroke-width="2.45" stroke-linejoin="round"/>
<rect x="571.52" y="170.53" width="11.75" height="11.75" fill="#fff" stroke="#000" stroke-width="2.45" stroke-linejoin="round"/>
<rect x="603.42" y="183.03" width="11.75" height="11.75" fill="#fff" stroke="#000" stroke-width="2.45" stroke-linejoin="round"/>
<rect x="608.92" y="186.53" width="11.75" height="11.75" fill="#fff" stroke="#000" stroke-width="2.45" stroke-linejoin="round"/>
<rect x="174.32" y="259.82" width="11.75" height="11.75" fill="#fff" stroke="#00ff00" stroke-width="2.45" stroke-linejoin="round"/>
<rect x="250.43" y="263.82" width="11.75" height="11.75" fill="#fff" stroke="#00ff00" stroke-width="2.45" stroke-linejoin="round"/>
<rect x="244.53" y="272.62" width="11.75" height="11.75" fill="#fff" stroke="#00ff00" stroke-width="2.45" stroke-linejoin="round"/>
<rect x="263.23" y="274.02" width="11.75" height="11.75" fill="#fff" stroke="#00ff00" stroke-width="2.45" stroke-linejoin="round"/>
<rect x="271.02" y="246.53" width="11.75" height="11.75" fill="#fff" stroke="#00ff00" stroke-width="2.45" stroke-linejoin="round"/>
<rect x="280.62" y="256.52" width="11.75" height="11.75" fill="#fff" stroke="#00ff00" stroke-width="2.45" stroke-linejoin="round"/>
<rect x="294.12" y="265.93" width="11.75" height="11.75" fill="#fff" stroke="#00ff00" stroke-width="2.45" stroke-linejoin="round"/>
<rect x="292.02" y="279.12" width="11.75" height="11.75" fill="#fff" stroke="#00ff00" stroke-width="2.45" stroke-linejoin="round"/>
<rect x="334.62" y="280.73" width="11.75" height="11.75" fill="#fff" stroke="#00ff00" stroke-width="2.45" stroke-linejoin="round"/>
<rect x="384.12" y="307.52" width="11.75" height="11.75" fill="#fff" stroke="#00ff00" stroke-width="2.45" stroke-linejoin="round"/>
<rect x="388.93" y="311.32" width="11.75" height="11.75" fill="#fff" stroke="#00ff00" stroke-width="2.45" stroke-linejoin="round"/>
<rect x="417.62" y="323.32" width="11.75" height="11.75" fill="#fff" stroke="#00ff00" stroke-width="2.45" stroke-linejoin="round"/>
<rect x="418.73" y="323.52" width="11.75" height="11.75" fill="#fff" stroke="#00ff00" stroke-width="2.45" stroke-linejoin="round"/>
<rect x="446.12" y="334.82" width="11.75" height="11.75" fill="#fff" stroke="#00ff00" stroke-width="2.45" stroke-linejoin="round"/>
<rect x="481.82" y="354.73" width="11.75" height="11.75" fill="#fff" stroke="#00ff00" stroke-width="2.45" stroke-linejoin="round"/>
<rect x="139.03" y="455.82" width="11.75" height="11.75" fill="#fff" stroke="#0000ff" stroke-width="2.45" stroke-linejoin="round"/>
<rect x="177.93" y="459.52" width="11.75" height="11.75" fill="#fff" stroke="#0000ff" stroke-width="2.45" stroke-linejoin="round"/>
<rect x="160.72" y="486.32" width="11.75" height="11.75" fill="#fff" stroke="#0000ff" stroke-width="2.45" stroke-linejoin="round"/>
<rect x="238.43" y="487.32" width="11.75" height="11.75" fill="#fff" stroke="#0000ff" stroke-width="2.45" stroke-linejoin="round"/>
<rect x="244.32" y="492.62" width="11.75" height="11.75" fill="#fff" stroke="#0000ff" stroke-width="2.45" stroke-linejoin="round"/>
<rect x="300.12" y="482.82" width="11.75" height="11.75" fill="#fff" stroke="#0000ff" stroke-width="2.45" stroke-linejoin="round"/>
<rect x="316.02" y="484.52" width="11.75" height="11.75" fill="#fff" stroke="#0000ff" stroke-width="2.45" stroke-linejoin="round"/>
<rect x="320.02" y="489.93" width="11.75" height="11.75" fill="#fff" stroke="#0000ff" stroke-width="2.45" stroke-linejoin="round"/>
<rect x="343.43" y="497.52" width="11.75" height="11.75" fill="#fff" stroke="#0000ff" stroke-width="2.45" stroke-linejoin="round"/>
<rect x="362.02" y="504.62" width="11.75" height="11.75" fill="#fff" stroke="#0000ff" stroke-width="2.45" stroke-linejoin="round"/>
<rect x="376.23" y="508.62" width="11.75" height="11.75" fill="#fff" stroke="#0000ff" stroke-width="2.45" stroke-linejoin="round"/>
<rect x="395.62" y="529.52" width="11.75" height="11.75" fill="#fff" stroke="#0000ff" stroke-width="2.45" stroke-linejoin="round"/>
<rect x="431.93" y="539.02" width="11.75" height="11.75" fill="#fff" stroke="#0000ff" stroke-width="2.45" stroke-linejoin="round"/>
<rect x="443.23" y="544.23" width="11.75" height="11.75" fill="#fff" stroke="#0000ff" stroke-width="2.45" stroke-linejoin="round"/>
<rect x="446.62" y="549.92" width="11.75" height="11.75" fill="#fff" stroke="#0000ff" stroke-width="2.45" stroke-linejoin="round"/>
<rect x="463.62" y="548.12" width="11.75" height="11.75" fill="#fff" stroke="#0000ff" stroke-width="2.45" stroke-linejoin="round"/>
<rect x="471.52" y="561.73" width="11.75" height="11.75" fill="#fff" stroke="#0000ff" stroke-width="2.45" stroke-linejoin="round"/>
<rect x="477.23" y="564.62" width="11.75" height="11.75" fill="#fff" stroke="#0000ff" stroke-width="2.45" stroke-linejoin="round"/>
<rect x="488.52" y="568.02" width="11.75" height="11.75" fill="#fff" stroke="#0000ff" stroke-width="2.45" stroke-linejoin="round"/>
<rect x="494.23" y="565.83" width="11.75" height="11.75" fill="#fff" stroke="#0000ff" stroke-width="2.45" stroke-linejoin="round"/>
<rect x="499.82" y="574.83" width="11.75" height="11.75" fill="#fff" stroke="#0000ff" stroke-width="2.45" stroke-linejoin="round"/>
<rect x="497.62" y="585.02" width="11.75" height="11.75" fill="#fff" stroke="#0000ff" stroke-width="2.45" stroke-linejoin="round"/>
<rect x="511.23" y="576.02" width="11.75" height="11.75" fill="#fff" stroke="#0000ff" stroke-width="2.45" stroke-linejoin="round"/>
<rect x="520.23" y="577.12" width="11.75" height="11.75" fill="#fff" stroke="#0000ff" stroke-width="2.45" stroke-linejoin="round"/>
<rect x="525.92" y="580.52" width="11.75" height="11.75" fill="#fff" stroke="#0000ff" stroke-width="2.45" stroke-linejoin="round"/>
<rect x="547.42" y="586.62" width="11.75" height="11.75" fill="#fff" stroke="#0000ff" stroke-width="2.45" stroke-linejoin="round"/>
<rect x="559.42" y="584.62" width="11.75" height="11.75" fill="#fff" stroke="#0000ff" stroke-width="2.45" stroke-linejoin="round"/>
<rect x="561.73" y="590.73" width="11.75" height="11.75" fill="#fff" stroke="#0000ff" stroke-width="2.45" stroke-linejoin="round"/>
<rect x="579.12" y="575.33" width="11.75" height="11.75" fill="#fff" stroke="#0000ff" stroke-width="2.45" stroke-linejoin="round"/>
<rect x="570.12" y="599.73" width="11.75" height="11.75" fill="#fff" stroke="#0000ff" stroke-width="2.45" stroke-linejoin="round"/>
<rect x="579.12" y="597.52" width="11.75" height="11.75" fill="#fff" stroke="#0000ff" stroke-width="2.45" stroke-linejoin="round"/>
<rect x="561.02" y="608.83" width="11.75" height="11.75" fill="#fff" stroke="#0000ff" stroke-width="2.45" stroke-linejoin="round"/>
<rect x="598.83" y="600.42" width="11.75" height="11.75" fill="#fff" stroke="#0000ff" stroke-width="2.45" stroke-linejoin="round"/>
<rect x="626.02" y="622.42" width="11.75" height="11.75" fill="#fff" stroke="#0000ff" stroke-width="2.45" stroke-linejoin="round"/>
<rect x="154.03" y="675.52" width="11.75" height="11.75" fill="#fff" stroke="#ff0000" stroke-width="2.45" stroke-linejoin="round"/>
<rect x="192.62" y="683.62" width="11.75" height="11.75" fill="#fff" stroke="#ff0000" stroke-width="2.45" stroke-linejoin="round"/>
<rect x="254.12" y="701.33" width="11.75" height="11.75" fill="#fff" stroke="#ff0000" stroke-width="2.45" stroke-linejoin="round"/>
<rect x="263.62" y="705.92" width="11.75" height="11.75" fill="#fff" stroke="#ff0000" stroke-width="2.45" stroke-linejoin="round"/>
<rect x="295.73" y="712.02" width="11.75" height="11.75" fill="#fff" stroke="#ff0000" stroke-width="2.45" stroke-linejoin="round"/>
<rect x="334.62" y="719.12" width="11.75" height="11.75" fill="#fff" stroke="#ff0000" stroke-width="2.45" stroke-linejoin="round"/>
<rect x="341.93" y="706.33" width="11.75" height="11.75" fill="#fff" stroke="#ff0000" stroke-width="2.45" stroke-linejoin="round"/>
<rect x="358.23" y="700.92" width="11.75" height="11.75" fill="#fff" stroke="#ff0000" stroke-width="2.45" stroke-linejoin="round"/>
<rect x="363.12" y="722.62" width="11.75" height="11.75" fill="#fff" stroke="#ff0000" stroke-width="2.45" stroke-linejoin="round"/>
<rect x="376.23" y="712.02" width="11.75" height="11.75" fill="#fff" stroke="#ff0000" stroke-width="2.45" stroke-linejoin="round"/>
<rect x="380.52" y="708.42" width="11.75" height="11.75" fill="#fff" stroke="#ff0000" stroke-width="2.45" stroke-linejoin="round"/>
<rect x="379.93" y="726.23" width="11.75" height="11.75" fill="#fff" stroke="#ff0000" stroke-width="2.45" stroke-linejoin="round"/>
<rect x="392.93" y="722.12" width="11.75" height="11.75" fill="#fff" stroke="#ff0000" stroke-width="2.45" stroke-linejoin="round"/>
<rect x="397.43" y="728.83" width="11.75" height="11.75" fill="#fff" stroke="#ff0000" stroke-width="2.45" stroke-linejoin="round"/>
<rect x="429.12" y="747.02" width="11.75" height="11.75" fill="#fff" stroke="#ff0000" stroke-width="2.45" stroke-linejoin="round"/>
<rect x="434.12" y="752.23" width="11.75" height="11.75" fill="#fff" stroke="#ff0000" stroke-width="2.45" stroke-linejoin="round"/>
<rect x="443.93" y="747.02" width="11.75" height="11.75" fill="#fff" stroke="#ff0000" stroke-width="2.45" stroke-linejoin="round"/>
<rect x="450.73" y="749.92" width="11.75" height="11.75" fill="#fff" stroke="#ff0000" stroke-width="2.45" stroke-linejoin="round"/>
<rect x="458.62" y="756.02" width="11.75" height="11.75" fill="#fff" stroke="#ff0000" stroke-width="2.45" stroke-linejoin="round"/>
<rect x="464.73" y="768.02" width="11.75" height="11.75" fill="#fff" stroke="#ff0000" stroke-width="2.45" stroke-linejoin="round"/>
<rect x="480.62" y="777.12" width="11.75" height="11.75" fill="#fff" stroke="#ff0000" stroke-width="2.45" stroke-linejoin="round"/>
<rect x="482.43" y="780.02" width="11.75" height="11.75" fill="#fff" stroke="#ff0000" stroke-width="2.45" stroke-linejoin="round"/>
<rect x="491.93" y="777.12" width="11.75" height="11.75" fill="#fff" stroke="#ff0000" stroke-width="2.45" stroke-linejoin="round"/>
<rect x="502.82" y="777.83" width="11.75" height="11.75" fill="#fff" stroke="#ff0000" stroke-width="2.45" stroke-linejoin="round"/>
<rect x="512.33" y="786.23" width="11.75" height="11.75" fill="#fff" stroke="#ff0000" stroke-width="2.45" stroke-linejoin="round"/>
<rect x="522.52" y="791.42" width="11.75" height="11.75" fill="#fff" stroke="#ff0000" stroke-width="2.45" stroke-linejoin="round"/>
<rect x="531.62" y="791.83" width="11.75" height="11.75" fill="#fff" stroke="#ff0000" stroke-width="2.45" stroke-linejoin="round"/>
<rect x="541.73" y="788.42" width="11.75" height="11.75" fill="#fff" stroke="#ff0000" stroke-width="2.45" stroke-linejoin="round"/>
<rect x="542.92" y="795.23" width="11.75" height="11.75" fill="#fff" stroke="#ff0000" stroke-width="2.45" stroke-linejoin="round"/>
<rect x="561.92" y="790.73" width="11.75" height="11.75" fill="#fff" stroke="#ff0000" stroke-width="2.45" stroke-linejoin="round"/>
<rect x="560.62" y="801.83" width="11.75" height="11.75" fill="#fff" stroke="#ff0000" stroke-width="2.45" stroke-linejoin="round"/>
<rect x="568.92" y="803.62" width="11.75" height="11.75" fill="#fff" stroke="#ff0000" stroke-width="2.45" stroke-linejoin="round"/>
<rect x="567.33" y="805.92" width="11.75" height="11.75" fill="#fff" stroke="#ff0000" stroke-width="2.45" stroke-linejoin="round"/>
<rect x="583.92" y="807.92" width="11.75" height="11.75" fill="#fff" stroke="#ff0000" stroke-width="2.45" stroke-linejoin="round"/>
<rect x="585.23" y="817.92" width="11.75" height="11.75" fill="#fff" stroke="#ff0000" stroke-width="2.45" stroke-linejoin="round"/>
<rect x="611.42" y="830.52" width="11.75" height="11.75" fill="#fff" stroke="#ff0000" stroke-width="2.45" stroke-linejoin="round"/>
<rect x="615.92" y="837.42" width="11.75" height="11.75" fill="#fff" stroke="#ff0000" stroke-width="2.45" stroke-linejoin="round"/>
<rect x="627.12" y="836.23" width="11.75" height="11.75" fill="#fff" stroke="#ff0000" stroke-width="2.45" stroke-linejoin="round"/>
<rect x="628.23" y="849.62" width="11.75" height="11.75" fill="#fff" stroke="#ff0000" stroke-width="2.45" stroke-linejoin="round"/>
<line x1="171.8" y1="186.6" x2="626.2" y2="191.0" stroke="#808080" stroke-width="3.6" stroke-dasharray="12.4 12.6 0.01 12.8" stroke-dashoffset="0" stroke-linecap="round"/>
<line x1="191.65" y1="21.94" x2="622" y2="196.3" stroke="#000" stroke-width="2.75" stroke-dasharray="6.6 13.01" stroke-dashoffset="0" stroke-linecap="round"/>
<line x1="222.6" y1="235.3" x2="534.4" y2="375.5" stroke="#00ff00" stroke-width="2.6" stroke-dasharray="7.5 12.16" stroke-dashoffset="0" stroke-linecap="round"/>
<line x1="216.4" y1="445.6" x2="665.7" y2="650.5" stroke="#0000ff" stroke-width="2.6" stroke-dasharray="6.9 12.71" stroke-dashoffset="3.25" stroke-linecap="round"/>
<line x1="264.4" y1="658.7" x2="633" y2="846.2" stroke="#ff0000" stroke-width="2.6" stroke-dasharray="6.7 12.88" stroke-dashoffset="4.3" stroke-linecap="round"/>
<line x1="277.80" y1="347.60" x2="277.80" y2="308.80" stroke="#00ff00" stroke-width="2.4" stroke-linecap="round"/>
<polygon points="277.80,292.50 286.10,308.80 269.50,308.80" fill="#00ff00" stroke="#00ff00" stroke-width="1.4" stroke-linejoin="round"/>
<line x1="320.20" y1="567.10" x2="320.20" y2="528.50" stroke="#0000ff" stroke-width="2.4" stroke-linecap="round"/>
<polygon points="320.20,512.70 328.30,528.50 312.10,528.50" fill="#0000ff" stroke="#0000ff" stroke-width="1.4" stroke-linejoin="round"/>
<line x1="365.50" y1="797.80" x2="365.50" y2="759.00" stroke="#ff0000" stroke-width="2.4" stroke-linecap="round"/>
<polygon points="365.50,743.20 373.60,759.00 357.40,759.00" fill="#ff0000" stroke="#ff0000" stroke-width="1.4" stroke-linejoin="round"/>
<line x1="804.75" y1="369.99" x2="808.85" y2="369.99" stroke="#000" stroke-width="1.7"/>
<line x1="1348.80" y1="369.99" x2="1344.70" y2="369.99" stroke="#000" stroke-width="1.7"/>
<line x1="804.75" y1="359.92" x2="808.85" y2="359.92" stroke="#000" stroke-width="1.7"/>
<line x1="1348.80" y1="359.92" x2="1344.70" y2="359.92" stroke="#000" stroke-width="1.7"/>
<line x1="804.75" y1="350.92" x2="811.75" y2="350.92" stroke="#000" stroke-width="1.7"/>
<line x1="1348.80" y1="350.92" x2="1341.80" y2="350.92" stroke="#000" stroke-width="1.7"/>
<line x1="804.75" y1="291.68" x2="808.85" y2="291.68" stroke="#000" stroke-width="1.7"/>
<line x1="1348.80" y1="291.68" x2="1344.70" y2="291.68" stroke="#000" stroke-width="1.7"/>
<line x1="804.75" y1="257.03" x2="808.85" y2="257.03" stroke="#000" stroke-width="1.7"/>
<line x1="1348.80" y1="257.03" x2="1344.70" y2="257.03" stroke="#000" stroke-width="1.7"/>
<line x1="804.75" y1="232.44" x2="808.85" y2="232.44" stroke="#000" stroke-width="1.7"/>
<line x1="1348.80" y1="232.44" x2="1344.70" y2="232.44" stroke="#000" stroke-width="1.7"/>
<line x1="804.75" y1="213.37" x2="808.85" y2="213.37" stroke="#000" stroke-width="1.7"/>
<line x1="1348.80" y1="213.37" x2="1344.70" y2="213.37" stroke="#000" stroke-width="1.7"/>
<line x1="804.75" y1="197.79" x2="808.85" y2="197.79" stroke="#000" stroke-width="1.7"/>
<line x1="1348.80" y1="197.79" x2="1344.70" y2="197.79" stroke="#000" stroke-width="1.7"/>
<line x1="804.75" y1="184.61" x2="808.85" y2="184.61" stroke="#000" stroke-width="1.7"/>
<line x1="1348.80" y1="184.61" x2="1344.70" y2="184.61" stroke="#000" stroke-width="1.7"/>
<line x1="804.75" y1="173.20" x2="808.85" y2="173.20" stroke="#000" stroke-width="1.7"/>
<line x1="1348.80" y1="173.20" x2="1344.70" y2="173.20" stroke="#000" stroke-width="1.7"/>
<line x1="804.75" y1="163.13" x2="808.85" y2="163.13" stroke="#000" stroke-width="1.7"/>
<line x1="1348.80" y1="163.13" x2="1344.70" y2="163.13" stroke="#000" stroke-width="1.7"/>
<line x1="804.75" y1="154.13" x2="811.75" y2="154.13" stroke="#000" stroke-width="1.7"/>
<line x1="1348.80" y1="154.13" x2="1341.80" y2="154.13" stroke="#000" stroke-width="1.7"/>
<line x1="804.75" y1="94.89" x2="808.85" y2="94.89" stroke="#000" stroke-width="1.7"/>
<line x1="1348.80" y1="94.89" x2="1344.70" y2="94.89" stroke="#000" stroke-width="1.7"/>
<line x1="804.75" y1="60.24" x2="808.85" y2="60.24" stroke="#000" stroke-width="1.7"/>
<line x1="1348.80" y1="60.24" x2="1344.70" y2="60.24" stroke="#000" stroke-width="1.7"/>
<line x1="804.75" y1="35.65" x2="808.85" y2="35.65" stroke="#000" stroke-width="1.7"/>
<line x1="1348.80" y1="35.65" x2="1344.70" y2="35.65" stroke="#000" stroke-width="1.7"/>
<line x1="804.75" y1="16.58" x2="808.85" y2="16.58" stroke="#000" stroke-width="1.7"/>
<line x1="1348.80" y1="16.58" x2="1344.70" y2="16.58" stroke="#000" stroke-width="1.7"/>
<line x1="817.10" y1="1.00" x2="817.10" y2="5.80" stroke="#000" stroke-width="1.7"/>
<line x1="817.10" y1="381.40" x2="817.10" y2="376.60" stroke="#000" stroke-width="1.7"/>
<line x1="827.21" y1="1.00" x2="827.21" y2="5.80" stroke="#000" stroke-width="1.7"/>
<line x1="827.21" y1="381.40" x2="827.21" y2="376.60" stroke="#000" stroke-width="1.7"/>
<line x1="835.97" y1="1.00" x2="835.97" y2="5.80" stroke="#000" stroke-width="1.7"/>
<line x1="835.97" y1="381.40" x2="835.97" y2="376.60" stroke="#000" stroke-width="1.7"/>
<line x1="843.69" y1="1.00" x2="843.69" y2="5.80" stroke="#000" stroke-width="1.7"/>
<line x1="843.69" y1="381.40" x2="843.69" y2="376.60" stroke="#000" stroke-width="1.7"/>
<line x1="850.60" y1="1.00" x2="850.60" y2="9.00" stroke="#000" stroke-width="1.7"/>
<line x1="850.60" y1="381.40" x2="850.60" y2="373.40" stroke="#000" stroke-width="1.7"/>
<line x1="896.06" y1="1.00" x2="896.06" y2="5.80" stroke="#000" stroke-width="1.7"/>
<line x1="896.06" y1="381.40" x2="896.06" y2="376.60" stroke="#000" stroke-width="1.7"/>
<line x1="922.65" y1="1.00" x2="922.65" y2="5.80" stroke="#000" stroke-width="1.7"/>
<line x1="922.65" y1="381.40" x2="922.65" y2="376.60" stroke="#000" stroke-width="1.7"/>
<line x1="941.51" y1="1.00" x2="941.51" y2="5.80" stroke="#000" stroke-width="1.7"/>
<line x1="941.51" y1="381.40" x2="941.51" y2="376.60" stroke="#000" stroke-width="1.7"/>
<line x1="956.14" y1="1.00" x2="956.14" y2="5.80" stroke="#000" stroke-width="1.7"/>
<line x1="956.14" y1="381.40" x2="956.14" y2="376.60" stroke="#000" stroke-width="1.7"/>
<line x1="968.10" y1="1.00" x2="968.10" y2="5.80" stroke="#000" stroke-width="1.7"/>
<line x1="968.10" y1="381.40" x2="968.10" y2="376.60" stroke="#000" stroke-width="1.7"/>
<line x1="978.21" y1="1.00" x2="978.21" y2="5.80" stroke="#000" stroke-width="1.7"/>
<line x1="978.21" y1="381.40" x2="978.21" y2="376.60" stroke="#000" stroke-width="1.7"/>
<line x1="986.97" y1="1.00" x2="986.97" y2="5.80" stroke="#000" stroke-width="1.7"/>
<line x1="986.97" y1="381.40" x2="986.97" y2="376.60" stroke="#000" stroke-width="1.7"/>
<line x1="994.69" y1="1.00" x2="994.69" y2="5.80" stroke="#000" stroke-width="1.7"/>
<line x1="994.69" y1="381.40" x2="994.69" y2="376.60" stroke="#000" stroke-width="1.7"/>
<line x1="1001.60" y1="1.00" x2="1001.60" y2="9.00" stroke="#000" stroke-width="1.7"/>
<line x1="1001.60" y1="381.40" x2="1001.60" y2="373.40" stroke="#000" stroke-width="1.7"/>
<line x1="1047.06" y1="1.00" x2="1047.06" y2="5.80" stroke="#000" stroke-width="1.7"/>
<line x1="1047.06" y1="381.40" x2="1047.06" y2="376.60" stroke="#000" stroke-width="1.7"/>
<line x1="1073.65" y1="1.00" x2="1073.65" y2="5.80" stroke="#000" stroke-width="1.7"/>
<line x1="1073.65" y1="381.40" x2="1073.65" y2="376.60" stroke="#000" stroke-width="1.7"/>
<line x1="1092.51" y1="1.00" x2="1092.51" y2="5.80" stroke="#000" stroke-width="1.7"/>
<line x1="1092.51" y1="381.40" x2="1092.51" y2="376.60" stroke="#000" stroke-width="1.7"/>
<line x1="1107.14" y1="1.00" x2="1107.14" y2="5.80" stroke="#000" stroke-width="1.7"/>
<line x1="1107.14" y1="381.40" x2="1107.14" y2="376.60" stroke="#000" stroke-width="1.7"/>
<line x1="1119.10" y1="1.00" x2="1119.10" y2="5.80" stroke="#000" stroke-width="1.7"/>
<line x1="1119.10" y1="381.40" x2="1119.10" y2="376.60" stroke="#000" stroke-width="1.7"/>
<line x1="1129.21" y1="1.00" x2="1129.21" y2="5.80" stroke="#000" stroke-width="1.7"/>
<line x1="1129.21" y1="381.40" x2="1129.21" y2="376.60" stroke="#000" stroke-width="1.7"/>
<line x1="1137.97" y1="1.00" x2="1137.97" y2="5.80" stroke="#000" stroke-width="1.7"/>
<line x1="1137.97" y1="381.40" x2="1137.97" y2="376.60" stroke="#000" stroke-width="1.7"/>
<line x1="1145.69" y1="1.00" x2="1145.69" y2="5.80" stroke="#000" stroke-width="1.7"/>
<line x1="1145.69" y1="381.40" x2="1145.69" y2="376.60" stroke="#000" stroke-width="1.7"/>
<line x1="1152.60" y1="1.00" x2="1152.60" y2="9.00" stroke="#000" stroke-width="1.7"/>
<line x1="1152.60" y1="381.40" x2="1152.60" y2="373.40" stroke="#000" stroke-width="1.7"/>
<line x1="1198.06" y1="1.00" x2="1198.06" y2="5.80" stroke="#000" stroke-width="1.7"/>
<line x1="1198.06" y1="381.40" x2="1198.06" y2="376.60" stroke="#000" stroke-width="1.7"/>
<line x1="1224.65" y1="1.00" x2="1224.65" y2="5.80" stroke="#000" stroke-width="1.7"/>
<line x1="1224.65" y1="381.40" x2="1224.65" y2="376.60" stroke="#000" stroke-width="1.7"/>
<line x1="1243.51" y1="1.00" x2="1243.51" y2="5.80" stroke="#000" stroke-width="1.7"/>
<line x1="1243.51" y1="381.40" x2="1243.51" y2="376.60" stroke="#000" stroke-width="1.7"/>
<line x1="1258.14" y1="1.00" x2="1258.14" y2="5.80" stroke="#000" stroke-width="1.7"/>
<line x1="1258.14" y1="381.40" x2="1258.14" y2="376.60" stroke="#000" stroke-width="1.7"/>
<line x1="1270.10" y1="1.00" x2="1270.10" y2="5.80" stroke="#000" stroke-width="1.7"/>
<line x1="1270.10" y1="381.40" x2="1270.10" y2="376.60" stroke="#000" stroke-width="1.7"/>
<line x1="1280.21" y1="1.00" x2="1280.21" y2="5.80" stroke="#000" stroke-width="1.7"/>
<line x1="1280.21" y1="381.40" x2="1280.21" y2="376.60" stroke="#000" stroke-width="1.7"/>
<line x1="1288.97" y1="1.00" x2="1288.97" y2="5.80" stroke="#000" stroke-width="1.7"/>
<line x1="1288.97" y1="381.40" x2="1288.97" y2="376.60" stroke="#000" stroke-width="1.7"/>
<line x1="1296.69" y1="1.00" x2="1296.69" y2="5.80" stroke="#000" stroke-width="1.7"/>
<line x1="1296.69" y1="381.40" x2="1296.69" y2="376.60" stroke="#000" stroke-width="1.7"/>
<line x1="1303.60" y1="1.00" x2="1303.60" y2="9.00" stroke="#000" stroke-width="1.7"/>
<line x1="1303.60" y1="381.40" x2="1303.60" y2="373.40" stroke="#000" stroke-width="1.7"/>
<rect x="804.75" y="1.0" width="544.05" height="380.4" fill="none" stroke="#000" stroke-width="2.1"/>
<text transform="translate(769.95,165.03) scale(1.0,1.04)" font-size="30.75" fill="#000">0</text>
<use href="#one" transform="translate(752.85,165.03) scale(0.01501,-0.01531)" fill="#000"/>
<text transform="translate(787.06,150.53) scale(1.0,1.04)" font-size="19.5" fill="#000">2</text>
<text transform="translate(769.95,361.82) scale(1.0,1.04)" font-size="30.75" fill="#000">0</text>
<use href="#one" transform="translate(752.85,361.82) scale(0.01501,-0.01531)" fill="#000"/>
<use href="#one" transform="translate(787.06,347.32) scale(0.00952,-0.00971)" fill="#000"/>
<text transform="translate(839.68,419.10) scale(1.0,1.04)" font-size="33.3" fill="#000">0</text>
<use href="#one" transform="translate(821.16,419.10) scale(0.01626,-0.01658)" fill="#000"/>
<text transform="translate(869.32,403.10) scale(1.0,1.04)" font-size="20" fill="#000">8</text>
<use href="#one" transform="translate(858.20,403.10) scale(0.00977,-0.00996)" fill="#000"/>
<text transform="translate(990.68,419.10) scale(1.0,1.04)" font-size="33.3" fill="#000">0</text>
<use href="#one" transform="translate(972.16,419.10) scale(0.01626,-0.01658)" fill="#000"/>
<text transform="translate(1020.32,403.10) scale(1.0,1.04)" font-size="20" fill="#000">9</text>
<use href="#one" transform="translate(1009.20,403.10) scale(0.00977,-0.00996)" fill="#000"/>
<text transform="translate(1141.68,419.10) scale(1.0,1.04)" font-size="33.3" fill="#000">0</text>
<use href="#one" transform="translate(1123.16,419.10) scale(0.01626,-0.01658)" fill="#000"/>
<text transform="translate(1160.20,403.10) scale(1.0,1.04)" font-size="20" fill="#000">2</text>
<text transform="translate(1171.32,403.10) scale(1.0,1.04)" font-size="20" fill="#000">0</text>
<text transform="translate(1292.68,419.10) scale(1.0,1.04)" font-size="33.3" fill="#000">0</text>
<use href="#one" transform="translate(1274.16,419.10) scale(0.01626,-0.01658)" fill="#000"/>
<text transform="translate(1311.20,403.10) scale(1.0,1.04)" font-size="20" fill="#000">2</text>
<use href="#one" transform="translate(1322.32,403.10) scale(0.00977,-0.00996)" fill="#000"/>
<text x="1013.33" y="467.10" font-size="39" font-style="italic" fill="#000">n</text>
<text x="1045.86" y="467.10" font-size="39" fill="#000">(</text>
<text x="1058.84" y="467.10" font-size="39" fill="#000">c</text>
<text x="1078.34" y="467.10" font-size="39" fill="#000">m</text>
<text x="1110.83" y="447.90" font-size="23" fill="#000">-</text>
<text transform="translate(1118.49,447.90) scale(1.0,1.04)" font-size="23" fill="#000">3</text>
<text x="1131.28" y="467.10" font-size="39" fill="#000">)</text>
<path d="M757.3,267.0 C761.2,267.3 762.4,271.2 760.6,272.7 C759.2,273.9 752,273.4 746.5,272.6 C741.5,271.9 738.8,267.0 735.8,267.5 C733.0,268.0 733.4,273.2 737.0,273.6 C742.0,274.2 749.0,274.4 754.4,277.4" fill="none" stroke="#000" stroke-width="3.3" stroke-linecap="butt"/>
<g transform="translate(761.8,227.7) rotate(-90)"><text x="-27.96" y="0.00" font-size="39" fill="#000">(</text>
<text x="-14.98" y="0.00" font-size="39" fill="#000">n</text>
<text x="6.71" y="0.00" font-size="39" fill="#000">m</text>
<text x="39.20" y="0.00" font-size="39" fill="#000">)</text></g>
<text x="811.50" y="34.40" font-size="41" text-anchor="start" fill="#000" >e</text>
<rect x="813.70" y="84.80" width="11.8" height="11.8" fill="#fff" stroke="#000" stroke-width="2.05" stroke-linejoin="round"/>
<rect x="836.20" y="43.00" width="11.8" height="11.8" fill="#fff" stroke="#000" stroke-width="2.05" stroke-linejoin="round"/>
<rect x="829.00" y="67.60" width="11.8" height="11.8" fill="#fff" stroke="#000" stroke-width="2.05" stroke-linejoin="round"/>
<rect x="836.20" y="72.20" width="11.8" height="11.8" fill="#fff" stroke="#000" stroke-width="2.05" stroke-linejoin="round"/>
<rect x="854.50" y="77.20" width="11.8" height="11.8" fill="#fff" stroke="#000" stroke-width="2.05" stroke-linejoin="round"/>
<rect x="859.60" y="71.00" width="11.8" height="11.8" fill="#fff" stroke="#000" stroke-width="2.05" stroke-linejoin="round"/>
<rect x="866.00" y="69.40" width="11.8" height="11.8" fill="#fff" stroke="#000" stroke-width="2.05" stroke-linejoin="round"/>
<rect x="907.80" y="67.60" width="11.8" height="11.8" fill="#fff" stroke="#000" stroke-width="2.05" stroke-linejoin="round"/>
<rect x="920.40" y="76.10" width="11.8" height="11.8" fill="#fff" stroke="#000" stroke-width="2.05" stroke-linejoin="round"/>
<rect x="942.20" y="84.20" width="11.8" height="11.8" fill="#fff" stroke="#000" stroke-width="2.05" stroke-linejoin="round"/>
<rect x="955.50" y="93.80" width="11.8" height="11.8" fill="#fff" stroke="#000" stroke-width="2.05" stroke-linejoin="round"/>
<rect x="952.30" y="94.30" width="11.8" height="11.8" fill="#fff" stroke="#000" stroke-width="2.05" stroke-linejoin="round"/>
<rect x="975.10" y="104.20" width="11.8" height="11.8" fill="#fff" stroke="#000" stroke-width="2.05" stroke-linejoin="round"/>
<rect x="983.40" y="105.50" width="11.8" height="11.8" fill="#fff" stroke="#000" stroke-width="2.05" stroke-linejoin="round"/>
<rect x="1001.00" y="128.90" width="11.8" height="11.8" fill="#fff" stroke="#000" stroke-width="2.05" stroke-linejoin="round"/>
<rect x="999.10" y="137.80" width="11.8" height="11.8" fill="#fff" stroke="#000" stroke-width="2.05" stroke-linejoin="round"/>
<rect x="1029.50" y="150.00" width="11.8" height="11.8" fill="#fff" stroke="#000" stroke-width="2.05" stroke-linejoin="round"/>
<rect x="1041.40" y="152.50" width="11.8" height="11.8" fill="#fff" stroke="#000" stroke-width="2.05" stroke-linejoin="round"/>
<rect x="1039.00" y="158.50" width="11.8" height="11.8" fill="#fff" stroke="#000" stroke-width="2.05" stroke-linejoin="round"/>
<rect x="1047.40" y="149.60" width="11.8" height="11.8" fill="#fff" stroke="#000" stroke-width="2.05" stroke-linejoin="round"/>
<rect x="1050.70" y="165.70" width="11.8" height="11.8" fill="#fff" stroke="#000" stroke-width="2.05" stroke-linejoin="round"/>
<rect x="1065.10" y="165.90" width="11.8" height="11.8" fill="#fff" stroke="#000" stroke-width="2.05" stroke-linejoin="round"/>
<rect x="1065.10" y="169.70" width="11.8" height="11.8" fill="#fff" stroke="#000" stroke-width="2.05" stroke-linejoin="round"/>
<rect x="1077.80" y="181.00" width="11.8" height="11.8" fill="#fff" stroke="#000" stroke-width="2.05" stroke-linejoin="round"/>
<rect x="1081.40" y="190.70" width="11.8" height="11.8" fill="#fff" stroke="#000" stroke-width="2.05" stroke-linejoin="round"/>
<rect x="1103.40" y="214.10" width="11.8" height="11.8" fill="#fff" stroke="#000" stroke-width="2.05" stroke-linejoin="round"/>
<rect x="1125.40" y="227.90" width="11.8" height="11.8" fill="#fff" stroke="#000" stroke-width="2.05" stroke-linejoin="round"/>
<rect x="1135.70" y="239.50" width="11.8" height="11.8" fill="#fff" stroke="#000" stroke-width="2.05" stroke-linejoin="round"/>
<rect x="1140.60" y="244.90" width="11.8" height="11.8" fill="#fff" stroke="#000" stroke-width="2.05" stroke-linejoin="round"/>
<rect x="1148.80" y="243.40" width="11.8" height="11.8" fill="#fff" stroke="#000" stroke-width="2.05" stroke-linejoin="round"/>
<rect x="1154.00" y="255.30" width="11.8" height="11.8" fill="#fff" stroke="#000" stroke-width="2.05" stroke-linejoin="round"/>
<rect x="1180.20" y="263.40" width="11.8" height="11.8" fill="#fff" stroke="#000" stroke-width="2.05" stroke-linejoin="round"/>
<rect x="1195.40" y="270.30" width="11.8" height="11.8" fill="#fff" stroke="#000" stroke-width="2.05" stroke-linejoin="round"/>
<rect x="1198.30" y="274.60" width="11.8" height="11.8" fill="#fff" stroke="#000" stroke-width="2.05" stroke-linejoin="round"/>
<rect x="1216.20" y="285.70" width="11.8" height="11.8" fill="#fff" stroke="#000" stroke-width="2.05" stroke-linejoin="round"/>
<rect x="1250.90" y="292.50" width="11.8" height="11.8" fill="#fff" stroke="#000" stroke-width="2.05" stroke-linejoin="round"/>
<rect x="1281.10" y="312.70" width="11.8" height="11.8" fill="#fff" stroke="#000" stroke-width="2.05" stroke-linejoin="round"/>
<rect x="1286.50" y="320.40" width="11.8" height="11.8" fill="#fff" stroke="#000" stroke-width="2.05" stroke-linejoin="round"/>
<rect x="852.00" y="205.60" width="11.8" height="11.8" fill="#fff" stroke="#00ff00" stroke-width="2.05" stroke-linejoin="round"/>
<rect x="922.70" y="202.50" width="11.8" height="11.8" fill="#fff" stroke="#00ff00" stroke-width="2.05" stroke-linejoin="round"/>
<rect x="928.60" y="180.60" width="11.8" height="11.8" fill="#fff" stroke="#00ff00" stroke-width="2.05" stroke-linejoin="round"/>
<rect x="941.20" y="198.30" width="11.8" height="11.8" fill="#fff" stroke="#00ff00" stroke-width="2.05" stroke-linejoin="round"/>
<rect x="948.80" y="134.20" width="11.8" height="11.8" fill="#fff" stroke="#00ff00" stroke-width="2.05" stroke-linejoin="round"/>
<rect x="958.50" y="152.80" width="11.8" height="11.8" fill="#fff" stroke="#00ff00" stroke-width="2.05" stroke-linejoin="round"/>
<rect x="969.30" y="196.50" width="11.8" height="11.8" fill="#fff" stroke="#00ff00" stroke-width="2.05" stroke-linejoin="round"/>
<rect x="972.30" y="167.00" width="11.8" height="11.8" fill="#fff" stroke="#00ff00" stroke-width="2.05" stroke-linejoin="round"/>
<rect x="1012.60" y="182.40" width="11.8" height="11.8" fill="#fff" stroke="#00ff00" stroke-width="2.05" stroke-linejoin="round"/>
<rect x="1062.80" y="218.00" width="11.8" height="11.8" fill="#fff" stroke="#00ff00" stroke-width="2.05" stroke-linejoin="round"/>
<rect x="1067.50" y="226.00" width="11.8" height="11.8" fill="#fff" stroke="#00ff00" stroke-width="2.05" stroke-linejoin="round"/>
<rect x="1095.10" y="237.70" width="11.8" height="11.8" fill="#fff" stroke="#00ff00" stroke-width="2.05" stroke-linejoin="round"/>
<rect x="1097.30" y="237.60" width="11.8" height="11.8" fill="#fff" stroke="#00ff00" stroke-width="2.05" stroke-linejoin="round"/>
<rect x="1123.80" y="251.70" width="11.8" height="11.8" fill="#fff" stroke="#00ff00" stroke-width="2.05" stroke-linejoin="round"/>
<rect x="1160.10" y="278.90" width="11.8" height="11.8" fill="#fff" stroke="#00ff00" stroke-width="2.05" stroke-linejoin="round"/>
<rect x="816.80" y="209.00" width="11.8" height="11.8" fill="#fff" stroke="#0000ff" stroke-width="2.05" stroke-linejoin="round"/>
<rect x="838.90" y="259.90" width="11.8" height="11.8" fill="#fff" stroke="#0000ff" stroke-width="2.05" stroke-linejoin="round"/>
<rect x="855.90" y="199.70" width="11.8" height="11.8" fill="#fff" stroke="#0000ff" stroke-width="2.05" stroke-linejoin="round"/>
<rect x="916.10" y="230.90" width="11.8" height="11.8" fill="#fff" stroke="#0000ff" stroke-width="2.05" stroke-linejoin="round"/>
<rect x="922.30" y="238.00" width="11.8" height="11.8" fill="#fff" stroke="#0000ff" stroke-width="2.05" stroke-linejoin="round"/>
<rect x="978.10" y="194.00" width="11.8" height="11.8" fill="#fff" stroke="#0000ff" stroke-width="2.05" stroke-linejoin="round"/>
<rect x="993.70" y="190.20" width="11.8" height="11.8" fill="#fff" stroke="#0000ff" stroke-width="2.05" stroke-linejoin="round"/>
<rect x="996.30" y="200.70" width="11.8" height="11.8" fill="#fff" stroke="#0000ff" stroke-width="2.05" stroke-linejoin="round"/>
<rect x="999.40" y="198.40" width="11.8" height="11.8" fill="#fff" stroke="#0000ff" stroke-width="2.05" stroke-linejoin="round"/>
<rect x="1021.40" y="205.30" width="11.8" height="11.8" fill="#fff" stroke="#0000ff" stroke-width="2.05" stroke-linejoin="round"/>
<rect x="1039.20" y="211.50" width="11.8" height="11.8" fill="#fff" stroke="#0000ff" stroke-width="2.05" stroke-linejoin="round"/>
<rect x="1054.30" y="211.80" width="11.8" height="11.8" fill="#fff" stroke="#0000ff" stroke-width="2.05" stroke-linejoin="round"/>
<rect x="1073.60" y="245.50" width="11.8" height="11.8" fill="#fff" stroke="#0000ff" stroke-width="2.05" stroke-linejoin="round"/>
<rect x="1110.50" y="250.10" width="11.8" height="11.8" fill="#fff" stroke="#0000ff" stroke-width="2.05" stroke-linejoin="round"/>
<rect x="1121.10" y="255.40" width="11.8" height="11.8" fill="#fff" stroke="#0000ff" stroke-width="2.05" stroke-linejoin="round"/>
<rect x="1123.90" y="266.00" width="11.8" height="11.8" fill="#fff" stroke="#0000ff" stroke-width="2.05" stroke-linejoin="round"/>
<rect x="1141.70" y="254.70" width="11.8" height="11.8" fill="#fff" stroke="#0000ff" stroke-width="2.05" stroke-linejoin="round"/>
<rect x="1149.50" y="279.20" width="11.8" height="11.8" fill="#fff" stroke="#0000ff" stroke-width="2.05" stroke-linejoin="round"/>
<rect x="1155.50" y="280.50" width="11.8" height="11.8" fill="#fff" stroke="#0000ff" stroke-width="2.05" stroke-linejoin="round"/>
<rect x="1166.30" y="283.80" width="11.8" height="11.8" fill="#fff" stroke="#0000ff" stroke-width="2.05" stroke-linejoin="round"/>
<rect x="1171.90" y="277.30" width="11.8" height="11.8" fill="#fff" stroke="#0000ff" stroke-width="2.05" stroke-linejoin="round"/>
<rect x="1178.10" y="289.30" width="11.8" height="11.8" fill="#fff" stroke="#0000ff" stroke-width="2.05" stroke-linejoin="round"/>
<rect x="1176.00" y="312.00" width="11.8" height="11.8" fill="#fff" stroke="#0000ff" stroke-width="2.05" stroke-linejoin="round"/>
<rect x="1189.50" y="288.60" width="11.8" height="11.8" fill="#fff" stroke="#0000ff" stroke-width="2.05" stroke-linejoin="round"/>
<rect x="1198.60" y="287.30" width="11.8" height="11.8" fill="#fff" stroke="#0000ff" stroke-width="2.05" stroke-linejoin="round"/>
<rect x="1204.50" y="290.60" width="11.8" height="11.8" fill="#fff" stroke="#0000ff" stroke-width="2.05" stroke-linejoin="round"/>
<rect x="1225.00" y="294.40" width="11.8" height="11.8" fill="#fff" stroke="#0000ff" stroke-width="2.05" stroke-linejoin="round"/>
<rect x="1237.40" y="286.70" width="11.8" height="11.8" fill="#fff" stroke="#0000ff" stroke-width="2.05" stroke-linejoin="round"/>
<rect x="1248.40" y="316.50" width="11.8" height="11.8" fill="#fff" stroke="#0000ff" stroke-width="2.05" stroke-linejoin="round"/>
<rect x="1257.10" y="303.10" width="11.8" height="11.8" fill="#fff" stroke="#0000ff" stroke-width="2.05" stroke-linejoin="round"/>
<rect x="1257.10" y="259.30" width="11.8" height="11.8" fill="#fff" stroke="#0000ff" stroke-width="2.05" stroke-linejoin="round"/>
<rect x="1276.90" y="301.10" width="11.8" height="11.8" fill="#fff" stroke="#0000ff" stroke-width="2.05" stroke-linejoin="round"/>
<rect x="1238.40" y="333.90" width="11.8" height="11.8" fill="#fff" stroke="#0000ff" stroke-width="2.05" stroke-linejoin="round"/>
<rect x="1304.30" y="333.90" width="11.8" height="11.8" fill="#fff" stroke="#0000ff" stroke-width="2.05" stroke-linejoin="round"/>
<rect x="831.60" y="275.40" width="11.8" height="11.8" fill="#fff" stroke="#ff0000" stroke-width="2.05" stroke-linejoin="round"/>
<rect x="870.50" y="272.60" width="11.8" height="11.8" fill="#fff" stroke="#ff0000" stroke-width="2.05" stroke-linejoin="round"/>
<rect x="931.60" y="273.80" width="11.8" height="11.8" fill="#fff" stroke="#ff0000" stroke-width="2.05" stroke-linejoin="round"/>
<rect x="941.30" y="278.20" width="11.8" height="11.8" fill="#fff" stroke="#ff0000" stroke-width="2.05" stroke-linejoin="round"/>
<rect x="973.70" y="273.80" width="11.8" height="11.8" fill="#fff" stroke="#ff0000" stroke-width="2.05" stroke-linejoin="round"/>
<rect x="1012.60" y="268.00" width="11.8" height="11.8" fill="#fff" stroke="#ff0000" stroke-width="2.05" stroke-linejoin="round"/>
<rect x="1020.00" y="244.10" width="11.8" height="11.8" fill="#fff" stroke="#ff0000" stroke-width="2.05" stroke-linejoin="round"/>
<rect x="1035.80" y="228.70" width="11.8" height="11.8" fill="#fff" stroke="#ff0000" stroke-width="2.05" stroke-linejoin="round"/>
<rect x="1040.90" y="261.90" width="11.8" height="11.8" fill="#fff" stroke="#ff0000" stroke-width="2.05" stroke-linejoin="round"/>
<rect x="1054.00" y="239.50" width="11.8" height="11.8" fill="#fff" stroke="#ff0000" stroke-width="2.05" stroke-linejoin="round"/>
<rect x="1059.00" y="230.70" width="11.8" height="11.8" fill="#fff" stroke="#ff0000" stroke-width="2.05" stroke-linejoin="round"/>
<rect x="1058.20" y="260.90" width="11.8" height="11.8" fill="#fff" stroke="#ff0000" stroke-width="2.05" stroke-linejoin="round"/>
<rect x="1070.50" y="249.00" width="11.8" height="11.8" fill="#fff" stroke="#ff0000" stroke-width="2.05" stroke-linejoin="round"/>
<rect x="1075.60" y="257.80" width="11.8" height="11.8" fill="#fff" stroke="#ff0000" stroke-width="2.05" stroke-linejoin="round"/>
<rect x="1106.60" y="274.10" width="11.8" height="11.8" fill="#fff" stroke="#ff0000" stroke-width="2.05" stroke-linejoin="round"/>
<rect x="1111.60" y="282.70" width="11.8" height="11.8" fill="#fff" stroke="#ff0000" stroke-width="2.05" stroke-linejoin="round"/>
<rect x="1114.40" y="272.90" width="11.8" height="11.8" fill="#fff" stroke="#ff0000" stroke-width="2.05" stroke-linejoin="round"/>
<rect x="1121.70" y="267.10" width="11.8" height="11.8" fill="#fff" stroke="#ff0000" stroke-width="2.05" stroke-linejoin="round"/>
<rect x="1128.10" y="270.30" width="11.8" height="11.8" fill="#fff" stroke="#ff0000" stroke-width="2.05" stroke-linejoin="round"/>
<rect x="1136.80" y="275.70" width="11.8" height="11.8" fill="#fff" stroke="#ff0000" stroke-width="2.05" stroke-linejoin="round"/>
<rect x="1142.60" y="293.10" width="11.8" height="11.8" fill="#fff" stroke="#ff0000" stroke-width="2.05" stroke-linejoin="round"/>
<rect x="1159.60" y="298.10" width="11.8" height="11.8" fill="#fff" stroke="#ff0000" stroke-width="2.05" stroke-linejoin="round"/>
<rect x="1157.30" y="304.10" width="11.8" height="11.8" fill="#fff" stroke="#ff0000" stroke-width="2.05" stroke-linejoin="round"/>
<rect x="1160.50" y="306.40" width="11.8" height="11.8" fill="#fff" stroke="#ff0000" stroke-width="2.05" stroke-linejoin="round"/>
<rect x="1165.80" y="298.50" width="11.8" height="11.8" fill="#fff" stroke="#ff0000" stroke-width="2.05" stroke-linejoin="round"/>
<rect x="1172.70" y="295.60" width="11.8" height="11.8" fill="#fff" stroke="#ff0000" stroke-width="2.05" stroke-linejoin="round"/>
<rect x="1180.80" y="292.50" width="11.8" height="11.8" fill="#fff" stroke="#ff0000" stroke-width="2.05" stroke-linejoin="round"/>
<rect x="1190.20" y="302.90" width="11.8" height="11.8" fill="#fff" stroke="#ff0000" stroke-width="2.05" stroke-linejoin="round"/>
<rect x="1200.10" y="307.00" width="11.8" height="11.8" fill="#fff" stroke="#ff0000" stroke-width="2.05" stroke-linejoin="round"/>
<rect x="1208.80" y="303.50" width="11.8" height="11.8" fill="#fff" stroke="#ff0000" stroke-width="2.05" stroke-linejoin="round"/>
<rect x="1218.80" y="293.30" width="11.8" height="11.8" fill="#fff" stroke="#ff0000" stroke-width="2.05" stroke-linejoin="round"/>
<rect x="1221.40" y="303.30" width="11.8" height="11.8" fill="#fff" stroke="#ff0000" stroke-width="2.05" stroke-linejoin="round"/>
<rect x="1239.70" y="288.60" width="11.8" height="11.8" fill="#fff" stroke="#ff0000" stroke-width="2.05" stroke-linejoin="round"/>
<rect x="1238.30" y="307.00" width="11.8" height="11.8" fill="#fff" stroke="#ff0000" stroke-width="2.05" stroke-linejoin="round"/>
<rect x="1246.10" y="306.90" width="11.8" height="11.8" fill="#fff" stroke="#ff0000" stroke-width="2.05" stroke-linejoin="round"/>
<rect x="1261.30" y="307.90" width="11.8" height="11.8" fill="#fff" stroke="#ff0000" stroke-width="2.05" stroke-linejoin="round"/>
<rect x="1263.20" y="322.90" width="11.8" height="11.8" fill="#fff" stroke="#ff0000" stroke-width="2.05" stroke-linejoin="round"/>
<rect x="1289.40" y="332.50" width="11.8" height="11.8" fill="#fff" stroke="#ff0000" stroke-width="2.05" stroke-linejoin="round"/>
<rect x="1293.30" y="342.00" width="11.8" height="11.8" fill="#fff" stroke="#ff0000" stroke-width="2.05" stroke-linejoin="round"/>
<rect x="1304.80" y="334.80" width="11.8" height="11.8" fill="#fff" stroke="#ff0000" stroke-width="2.05" stroke-linejoin="round"/>
<rect x="1306.20" y="356.60" width="11.8" height="11.8" fill="#fff" stroke="#ff0000" stroke-width="2.05" stroke-linejoin="round"/>
<line x1="926.89" y1="100.45" x2="940.96" y2="125.58" stroke="#00ff00" stroke-width="2.4" stroke-linecap="round"/>
<polygon points="945.16,133.09 937.64,127.44 944.27,123.73" fill="#00ff00" stroke="#00ff00" stroke-width="1.4" stroke-linejoin="round"/>
<line x1="984.87" y1="131.64" x2="996.24" y2="166.85" stroke="#0000ff" stroke-width="2.4" stroke-linecap="round"/>
<polygon points="998.88,175.03 992.63,168.02 999.86,165.68" fill="#0000ff" stroke="#0000ff" stroke-width="1.4" stroke-linejoin="round"/>
<line x1="987.17" y1="221.47" x2="1023.24" y2="229.89" stroke="#ff0000" stroke-width="2.4" stroke-linecap="round"/>
<polygon points="1031.62,231.84 1022.38,233.59 1024.11,226.19" fill="#ff0000" stroke="#ff0000" stroke-width="1.4" stroke-linejoin="round"/>
<line x1="804.00" y1="868.40" x2="804.00" y2="861.40" stroke="#000" stroke-width="1.7"/>
<line x1="804.00" y1="487.30" x2="804.00" y2="494.30" stroke="#000" stroke-width="1.7"/>
<line x1="889.00" y1="868.40" x2="889.00" y2="863.90" stroke="#000" stroke-width="1.7"/>
<line x1="889.00" y1="487.30" x2="889.00" y2="491.80" stroke="#000" stroke-width="1.7"/>
<line x1="974.00" y1="868.40" x2="974.00" y2="861.40" stroke="#000" stroke-width="1.7"/>
<line x1="974.00" y1="487.30" x2="974.00" y2="494.30" stroke="#000" stroke-width="1.7"/>
<line x1="1059.00" y1="868.40" x2="1059.00" y2="863.90" stroke="#000" stroke-width="1.7"/>
<line x1="1059.00" y1="487.30" x2="1059.00" y2="491.80" stroke="#000" stroke-width="1.7"/>
<line x1="1144.00" y1="868.40" x2="1144.00" y2="861.40" stroke="#000" stroke-width="1.7"/>
<line x1="1144.00" y1="487.30" x2="1144.00" y2="494.30" stroke="#000" stroke-width="1.7"/>
<line x1="1229.00" y1="868.40" x2="1229.00" y2="863.90" stroke="#000" stroke-width="1.7"/>
<line x1="1229.00" y1="487.30" x2="1229.00" y2="491.80" stroke="#000" stroke-width="1.7"/>
<line x1="1314.00" y1="868.40" x2="1314.00" y2="861.40" stroke="#000" stroke-width="1.7"/>
<line x1="1314.00" y1="487.30" x2="1314.00" y2="494.30" stroke="#000" stroke-width="1.7"/>
<line x1="804.00" y1="825.09" x2="808.50" y2="825.09" stroke="#000" stroke-width="1.7"/>
<line x1="1348.00" y1="825.09" x2="1343.50" y2="825.09" stroke="#000" stroke-width="1.7"/>
<line x1="804.00" y1="781.79" x2="811.00" y2="781.79" stroke="#000" stroke-width="1.7"/>
<line x1="1348.00" y1="781.79" x2="1341.00" y2="781.79" stroke="#000" stroke-width="1.7"/>
<line x1="804.00" y1="738.48" x2="808.50" y2="738.48" stroke="#000" stroke-width="1.7"/>
<line x1="1348.00" y1="738.48" x2="1343.50" y2="738.48" stroke="#000" stroke-width="1.7"/>
<line x1="804.00" y1="695.17" x2="811.00" y2="695.17" stroke="#000" stroke-width="1.7"/>
<line x1="1348.00" y1="695.17" x2="1341.00" y2="695.17" stroke="#000" stroke-width="1.7"/>
<line x1="804.00" y1="651.87" x2="808.50" y2="651.87" stroke="#000" stroke-width="1.7"/>
<line x1="1348.00" y1="651.87" x2="1343.50" y2="651.87" stroke="#000" stroke-width="1.7"/>
<line x1="804.00" y1="608.56" x2="811.00" y2="608.56" stroke="#000" stroke-width="1.7"/>
<line x1="1348.00" y1="608.56" x2="1341.00" y2="608.56" stroke="#000" stroke-width="1.7"/>
<line x1="804.00" y1="565.25" x2="808.50" y2="565.25" stroke="#000" stroke-width="1.7"/>
<line x1="1348.00" y1="565.25" x2="1343.50" y2="565.25" stroke="#000" stroke-width="1.7"/>
<line x1="804.00" y1="521.95" x2="811.00" y2="521.95" stroke="#000" stroke-width="1.7"/>
<line x1="1348.00" y1="521.95" x2="1341.00" y2="521.95" stroke="#000" stroke-width="1.7"/>
<rect x="804.0" y="487.3" width="544.0" height="381.09999999999997" fill="none" stroke="#000" stroke-width="2.1"/>
<text transform="translate(778.76,877.20) scale(1.0,1.04)" font-size="31" fill="#000">0</text>
<text transform="translate(778.76,792.29) scale(1.0,1.04)" font-size="31" fill="#000">5</text>
<text transform="translate(778.76,705.67) scale(1.0,1.04)" font-size="31" fill="#000">0</text>
<use href="#one" transform="translate(761.52,705.67) scale(0.01514,-0.01544)" fill="#000"/>
<text transform="translate(778.76,619.06) scale(1.0,1.04)" font-size="31" fill="#000">5</text>
<use href="#one" transform="translate(761.52,619.06) scale(0.01514,-0.01544)" fill="#000"/>
<text transform="translate(761.52,532.45) scale(1.0,1.04)" font-size="31" fill="#000">2</text>
<text transform="translate(778.76,532.45) scale(1.0,1.04)" font-size="31" fill="#000">0</text>
<text transform="translate(795.38,899.00) scale(1.0,1.04)" font-size="31" fill="#000">0</text>
<text transform="translate(956.76,899.00) scale(1.0,1.04)" font-size="31" fill="#000">5</text>
<text transform="translate(974.00,899.00) scale(1.0,1.04)" font-size="31" fill="#000">0</text>
<text transform="translate(1135.38,899.00) scale(1.0,1.04)" font-size="31" fill="#000">0</text>
<text transform="translate(1152.62,899.00) scale(1.0,1.04)" font-size="31" fill="#000">0</text>
<use href="#one" transform="translate(1118.14,899.00) scale(0.01514,-0.01544)" fill="#000"/>
<text transform="translate(1305.38,899.00) scale(1.0,1.04)" font-size="31" fill="#000">5</text>
<text transform="translate(1322.62,899.00) scale(1.0,1.04)" font-size="31" fill="#000">0</text>
<use href="#one" transform="translate(1288.14,899.00) scale(0.01514,-0.01544)" fill="#000"/>
<text x="959.15" y="953.80" font-size="39" font-style="italic" fill="#000">n</text>
<text x="980.84" y="967.80" font-size="23" fill="#000">C</text>
<text x="997.45" y="967.80" font-size="23" fill="#000">a</text>
<text x="1016.64" y="953.80" font-size="39" fill="#000">(</text>
<text transform="translate(1051.31,953.80) scale(1.0,1.04)" font-size="39" fill="#000">0</text>
<use href="#one" transform="translate(1029.62,953.80) scale(0.01904,-0.01942)" fill="#000"/>
<text transform="translate(1085.79,934.80) scale(1.0,1.04)" font-size="23" fill="#000">8</text>
<use href="#one" transform="translate(1073.00,934.80) scale(0.01123,-0.01146)" fill="#000"/>
<text x="1109.42" y="953.80" font-size="39" fill="#000">c</text>
<text x="1128.92" y="953.80" font-size="39" fill="#000">m</text>
<text x="1161.41" y="934.80" font-size="23" fill="#000">-</text>
<text transform="translate(1169.07,934.80) scale(1.0,1.04)" font-size="23" fill="#000">3</text>
<text x="1181.86" y="953.80" font-size="39" fill="#000">)</text>
<g transform="translate(750.5,676.3) rotate(-90)"><text x="-111.29" y="0.00" font-size="39.4" font-style="italic" fill="#000">n</text>
<text x="-89.37" y="-19.50" font-size="23.5" fill="#000">*</text>
<text x="-69.28" y="0.00" font-size="39.4" fill="#000">(</text>
<text transform="translate(-34.25,0.00) scale(1.0,1.04)" font-size="39.4" fill="#000">0</text>
<use href="#one" transform="translate(-56.16,0.00) scale(0.01924,-0.01962)" fill="#000"/>
<text transform="translate(0.73,-19.50) scale(1.0,1.04)" font-size="23.5" fill="#000">8</text>
<use href="#one" transform="translate(-12.34,-19.50) scale(0.01147,-0.01170)" fill="#000"/>
<text x="24.75" y="0.00" font-size="39.4" fill="#000">c</text>
<text x="44.45" y="0.00" font-size="39.4" fill="#000">m</text>
<text x="77.27" y="-19.50" font-size="23.5" fill="#000">-</text>
<text transform="translate(85.10,-19.50) scale(1.0,1.04)" font-size="23.5" fill="#000">3</text>
<text x="98.17" y="0.00" font-size="39.4" fill="#000">)</text></g>
<text x="819.50" y="535.00" font-size="41" text-anchor="start" fill="#000" >f</text>
<line x1="804.0" y1="868.4" x2="1336.7" y2="527.7" stroke="#808080" stroke-width="4.3" stroke-dasharray="14.5 29.4" stroke-dashoffset="0" stroke-linecap="round"/>
<polygon points="930.6,769.1999999999999 943.3000000000001,781.9 930.6,794.6 917.9,781.9" fill="#000" stroke="#000" stroke-width="1" stroke-linejoin="round"/>
<line x1="1061.85" y1="681.30" x2="1061.85" y2="715.90" stroke="#000" stroke-width="1.9"/>
<line x1="1057.35" y1="681.30" x2="1066.35" y2="681.30" stroke="#000" stroke-width="2.0"/>
<line x1="1057.35" y1="715.90" x2="1066.35" y2="715.90" stroke="#000" stroke-width="2.0"/>
<polygon points="1061.85,685.5999999999999 1074.55,698.3 1061.85,711.0 1049.1499999999999,698.3" fill="#000" stroke="#000" stroke-width="1" stroke-linejoin="round"/>
<line x1="1319.20" y1="513.60" x2="1319.20" y2="565.20" stroke="#000" stroke-width="1.9"/>
<line x1="1314.70" y1="513.60" x2="1323.70" y2="513.60" stroke="#000" stroke-width="2.0"/>
<line x1="1314.70" y1="565.20" x2="1323.70" y2="565.20" stroke="#000" stroke-width="2.0"/>
<polygon points="1319.2,526.6999999999999 1331.9,539.4 1319.2,552.1 1306.5,539.4" fill="#000" stroke="#000" stroke-width="1" stroke-linejoin="round"/>
</svg>
</body></html>
